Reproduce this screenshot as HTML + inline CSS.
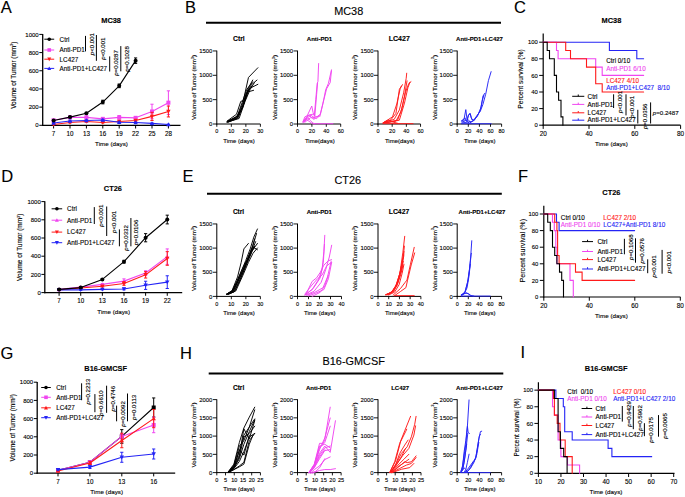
<!DOCTYPE html>
<html><head><meta charset="utf-8"><style>
html,body{margin:0;padding:0;background:#fff;}
svg{display:block;}
text{font-family:"Liberation Sans", sans-serif;}
</style></head><body>
<svg width="685" height="497" viewBox="0 0 685 497">
<rect width="685" height="497" fill="#fff"/>
<text x="0.8" y="13.1" font-size="16.5" text-anchor="start" fill="#000000" stroke="#000000" stroke-width="0.12">A</text>
<text x="185" y="13.3" font-size="16.5" text-anchor="start" fill="#000000" stroke="#000000" stroke-width="0.12">B</text>
<text x="514" y="13.2" font-size="16.5" text-anchor="start" fill="#000000" stroke="#000000" stroke-width="0.12">C</text>
<text x="1.2" y="182.4" font-size="16.5" text-anchor="start" fill="#000000" stroke="#000000" stroke-width="0.12">D</text>
<text x="182.5" y="182.4" font-size="16.5" text-anchor="start" fill="#000000" stroke="#000000" stroke-width="0.12">E</text>
<text x="518" y="182.2" font-size="16.5" text-anchor="start" fill="#000000" stroke="#000000" stroke-width="0.12">F</text>
<text x="0.5" y="359.3" font-size="16.5" text-anchor="start" fill="#000000" stroke="#000000" stroke-width="0.12">G</text>
<text x="180" y="359.3" font-size="16.5" text-anchor="start" fill="#000000" stroke="#000000" stroke-width="0.12">H</text>
<text x="520.5" y="358.3" font-size="16.5" text-anchor="start" fill="#000000" stroke="#000000" stroke-width="0.12">I</text>
<line x1="42.7" y1="34.1" x2="42.7" y2="125.9" stroke="#000000" stroke-width="1.3" stroke-linecap="butt"/>
<line x1="42.1" y1="125.3" x2="180.5" y2="125.3" stroke="#000000" stroke-width="1.3" stroke-linecap="butt"/>
<line x1="39.3" y1="125.3" x2="42.7" y2="125.3" stroke="#000000" stroke-width="1" stroke-linecap="butt"/>
<text x="38.7" y="127.4" font-size="6" text-anchor="end" fill="#000000" stroke="#000000" stroke-width="0.12">0</text>
<line x1="39.3" y1="107.12" x2="42.7" y2="107.12" stroke="#000000" stroke-width="1" stroke-linecap="butt"/>
<text x="38.7" y="109.22" font-size="6" text-anchor="end" fill="#000000" stroke="#000000" stroke-width="0.12">200</text>
<line x1="39.3" y1="88.94" x2="42.7" y2="88.94" stroke="#000000" stroke-width="1" stroke-linecap="butt"/>
<text x="38.7" y="91.04" font-size="6" text-anchor="end" fill="#000000" stroke="#000000" stroke-width="0.12">400</text>
<line x1="39.3" y1="70.76" x2="42.7" y2="70.76" stroke="#000000" stroke-width="1" stroke-linecap="butt"/>
<text x="38.7" y="72.86" font-size="6" text-anchor="end" fill="#000000" stroke="#000000" stroke-width="0.12">600</text>
<line x1="39.3" y1="52.58" x2="42.7" y2="52.58" stroke="#000000" stroke-width="1" stroke-linecap="butt"/>
<text x="38.7" y="54.68" font-size="6" text-anchor="end" fill="#000000" stroke="#000000" stroke-width="0.12">800</text>
<line x1="39.3" y1="34.4" x2="42.7" y2="34.4" stroke="#000000" stroke-width="1" stroke-linecap="butt"/>
<text x="38.7" y="36.5" font-size="6" text-anchor="end" fill="#000000" stroke="#000000" stroke-width="0.12">1000</text>
<line x1="53.6" y1="125.3" x2="53.6" y2="128.5" stroke="#000000" stroke-width="1" stroke-linecap="butt"/>
<text x="53.6" y="135.9" font-size="6.3" text-anchor="middle" fill="#000000" stroke="#000000" stroke-width="0.12">7</text>
<line x1="70" y1="125.3" x2="70" y2="128.5" stroke="#000000" stroke-width="1" stroke-linecap="butt"/>
<text x="70" y="135.9" font-size="6.3" text-anchor="middle" fill="#000000" stroke="#000000" stroke-width="0.12">10</text>
<line x1="86.4" y1="125.3" x2="86.4" y2="128.5" stroke="#000000" stroke-width="1" stroke-linecap="butt"/>
<text x="86.4" y="135.9" font-size="6.3" text-anchor="middle" fill="#000000" stroke="#000000" stroke-width="0.12">13</text>
<line x1="102.8" y1="125.3" x2="102.8" y2="128.5" stroke="#000000" stroke-width="1" stroke-linecap="butt"/>
<text x="102.8" y="135.9" font-size="6.3" text-anchor="middle" fill="#000000" stroke="#000000" stroke-width="0.12">16</text>
<line x1="119.2" y1="125.3" x2="119.2" y2="128.5" stroke="#000000" stroke-width="1" stroke-linecap="butt"/>
<text x="119.2" y="135.9" font-size="6.3" text-anchor="middle" fill="#000000" stroke="#000000" stroke-width="0.12">19</text>
<line x1="135.6" y1="125.3" x2="135.6" y2="128.5" stroke="#000000" stroke-width="1" stroke-linecap="butt"/>
<text x="135.6" y="135.9" font-size="6.3" text-anchor="middle" fill="#000000" stroke="#000000" stroke-width="0.12">22</text>
<line x1="152" y1="125.3" x2="152" y2="128.5" stroke="#000000" stroke-width="1" stroke-linecap="butt"/>
<text x="152" y="135.9" font-size="6.3" text-anchor="middle" fill="#000000" stroke="#000000" stroke-width="0.12">25</text>
<line x1="168.4" y1="125.3" x2="168.4" y2="128.5" stroke="#000000" stroke-width="1" stroke-linecap="butt"/>
<text x="168.4" y="135.9" font-size="6.3" text-anchor="middle" fill="#000000" stroke="#000000" stroke-width="0.12">28</text>
<text x="111.5" y="146.4" font-size="6.25" text-anchor="middle" fill="#000000" stroke="#000000" stroke-width="0.12">Time (days)</text>
<text x="15.8" y="75.2" font-size="6.4" text-anchor="middle" stroke="#000" stroke-width="0.12" transform="rotate(-90 15.8 75.2)">Volume of Tumor (mm<tspan font-size="3.97" dy="-2.43">3</tspan><tspan dy="2.43">)</tspan></text>
<text x="111.1" y="23.4" font-size="7.4" text-anchor="middle" fill="#000000" stroke="#000000" stroke-width="0.12" font-weight="bold">MC38</text>
<polyline points="53.6,120.3 70,117.39 86.4,117.39 102.8,118.85 119.2,117.39 135.6,117.85 152,111.48 168.4,102.67" fill="none" stroke="#F046F0" stroke-width="1.1" stroke-linejoin="round" stroke-linecap="round"/>
<rect x="51.6" y="118.3" width="4" height="4" fill="#F046F0"/>
<line x1="70" y1="116.3" x2="70" y2="118.48" stroke="#F046F0" stroke-width="1" stroke-linecap="butt"/>
<line x1="68.4" y1="116.3" x2="71.6" y2="116.3" stroke="#F046F0" stroke-width="1" stroke-linecap="butt"/>
<line x1="68.4" y1="118.48" x2="71.6" y2="118.48" stroke="#F046F0" stroke-width="1" stroke-linecap="butt"/>
<rect x="68" y="115.39" width="4" height="4" fill="#F046F0"/>
<line x1="86.4" y1="116.03" x2="86.4" y2="118.76" stroke="#F046F0" stroke-width="1" stroke-linecap="butt"/>
<line x1="84.8" y1="116.03" x2="88" y2="116.03" stroke="#F046F0" stroke-width="1" stroke-linecap="butt"/>
<line x1="84.8" y1="118.76" x2="88" y2="118.76" stroke="#F046F0" stroke-width="1" stroke-linecap="butt"/>
<rect x="84.4" y="115.39" width="4" height="4" fill="#F046F0"/>
<line x1="102.8" y1="117.94" x2="102.8" y2="119.76" stroke="#F046F0" stroke-width="1" stroke-linecap="butt"/>
<line x1="101.2" y1="117.94" x2="104.4" y2="117.94" stroke="#F046F0" stroke-width="1" stroke-linecap="butt"/>
<line x1="101.2" y1="119.76" x2="104.4" y2="119.76" stroke="#F046F0" stroke-width="1" stroke-linecap="butt"/>
<rect x="100.8" y="116.85" width="4" height="4" fill="#F046F0"/>
<line x1="119.2" y1="115.57" x2="119.2" y2="119.21" stroke="#F046F0" stroke-width="1" stroke-linecap="butt"/>
<line x1="117.6" y1="115.57" x2="120.8" y2="115.57" stroke="#F046F0" stroke-width="1" stroke-linecap="butt"/>
<line x1="117.6" y1="119.21" x2="120.8" y2="119.21" stroke="#F046F0" stroke-width="1" stroke-linecap="butt"/>
<rect x="117.2" y="115.39" width="4" height="4" fill="#F046F0"/>
<line x1="135.6" y1="116.48" x2="135.6" y2="119.21" stroke="#F046F0" stroke-width="1" stroke-linecap="butt"/>
<line x1="134" y1="116.48" x2="137.2" y2="116.48" stroke="#F046F0" stroke-width="1" stroke-linecap="butt"/>
<line x1="134" y1="119.21" x2="137.2" y2="119.21" stroke="#F046F0" stroke-width="1" stroke-linecap="butt"/>
<rect x="133.6" y="115.85" width="4" height="4" fill="#F046F0"/>
<line x1="152" y1="104.21" x2="152" y2="118.76" stroke="#F046F0" stroke-width="1" stroke-linecap="butt"/>
<line x1="150.4" y1="104.21" x2="153.6" y2="104.21" stroke="#F046F0" stroke-width="1" stroke-linecap="butt"/>
<line x1="150.4" y1="118.76" x2="153.6" y2="118.76" stroke="#F046F0" stroke-width="1" stroke-linecap="butt"/>
<rect x="150" y="109.48" width="4" height="4" fill="#F046F0"/>
<line x1="168.4" y1="90.85" x2="168.4" y2="114.48" stroke="#F046F0" stroke-width="1" stroke-linecap="butt"/>
<line x1="166.8" y1="90.85" x2="170" y2="90.85" stroke="#F046F0" stroke-width="1" stroke-linecap="butt"/>
<line x1="166.8" y1="114.48" x2="170" y2="114.48" stroke="#F046F0" stroke-width="1" stroke-linecap="butt"/>
<rect x="166.4" y="100.67" width="4" height="4" fill="#F046F0"/>
<polyline points="53.6,124.48 70,122.57 86.4,121.48 102.8,122.57 119.2,121.48 135.6,120.57 152,116.39 168.4,111.48" fill="none" stroke="#FF1A1A" stroke-width="1.1" stroke-linejoin="round" stroke-linecap="round"/>
<line x1="53.6" y1="124.21" x2="53.6" y2="124.75" stroke="#FF1A1A" stroke-width="1" stroke-linecap="butt"/>
<line x1="52" y1="124.21" x2="55.2" y2="124.21" stroke="#FF1A1A" stroke-width="1" stroke-linecap="butt"/>
<line x1="52" y1="124.75" x2="55.2" y2="124.75" stroke="#FF1A1A" stroke-width="1" stroke-linecap="butt"/>
<polygon points="53.6,126.68 51.4,122.72 55.8,122.72" fill="#FF1A1A"/>
<line x1="70" y1="122.12" x2="70" y2="123.03" stroke="#FF1A1A" stroke-width="1" stroke-linecap="butt"/>
<line x1="68.4" y1="122.12" x2="71.6" y2="122.12" stroke="#FF1A1A" stroke-width="1" stroke-linecap="butt"/>
<line x1="68.4" y1="123.03" x2="71.6" y2="123.03" stroke="#FF1A1A" stroke-width="1" stroke-linecap="butt"/>
<polygon points="70,124.77 67.8,120.81 72.2,120.81" fill="#FF1A1A"/>
<line x1="86.4" y1="120.75" x2="86.4" y2="122.21" stroke="#FF1A1A" stroke-width="1" stroke-linecap="butt"/>
<line x1="84.8" y1="120.75" x2="88" y2="120.75" stroke="#FF1A1A" stroke-width="1" stroke-linecap="butt"/>
<line x1="84.8" y1="122.21" x2="88" y2="122.21" stroke="#FF1A1A" stroke-width="1" stroke-linecap="butt"/>
<polygon points="86.4,123.68 84.2,119.72 88.6,119.72" fill="#FF1A1A"/>
<line x1="102.8" y1="122.12" x2="102.8" y2="123.03" stroke="#FF1A1A" stroke-width="1" stroke-linecap="butt"/>
<line x1="101.2" y1="122.12" x2="104.4" y2="122.12" stroke="#FF1A1A" stroke-width="1" stroke-linecap="butt"/>
<line x1="101.2" y1="123.03" x2="104.4" y2="123.03" stroke="#FF1A1A" stroke-width="1" stroke-linecap="butt"/>
<polygon points="102.8,124.77 100.6,120.81 105,120.81" fill="#FF1A1A"/>
<line x1="119.2" y1="121.03" x2="119.2" y2="121.94" stroke="#FF1A1A" stroke-width="1" stroke-linecap="butt"/>
<line x1="117.6" y1="121.03" x2="120.8" y2="121.03" stroke="#FF1A1A" stroke-width="1" stroke-linecap="butt"/>
<line x1="117.6" y1="121.94" x2="120.8" y2="121.94" stroke="#FF1A1A" stroke-width="1" stroke-linecap="butt"/>
<polygon points="119.2,123.68 117,119.72 121.4,119.72" fill="#FF1A1A"/>
<line x1="135.6" y1="119.85" x2="135.6" y2="121.3" stroke="#FF1A1A" stroke-width="1" stroke-linecap="butt"/>
<line x1="134" y1="119.85" x2="137.2" y2="119.85" stroke="#FF1A1A" stroke-width="1" stroke-linecap="butt"/>
<line x1="134" y1="121.3" x2="137.2" y2="121.3" stroke="#FF1A1A" stroke-width="1" stroke-linecap="butt"/>
<polygon points="135.6,122.77 133.4,118.81 137.8,118.81" fill="#FF1A1A"/>
<line x1="152" y1="112.3" x2="152" y2="120.48" stroke="#FF1A1A" stroke-width="1" stroke-linecap="butt"/>
<line x1="150.4" y1="112.3" x2="153.6" y2="112.3" stroke="#FF1A1A" stroke-width="1" stroke-linecap="butt"/>
<line x1="150.4" y1="120.48" x2="153.6" y2="120.48" stroke="#FF1A1A" stroke-width="1" stroke-linecap="butt"/>
<polygon points="152,118.59 149.8,114.63 154.2,114.63" fill="#FF1A1A"/>
<line x1="168.4" y1="106.03" x2="168.4" y2="116.94" stroke="#FF1A1A" stroke-width="1" stroke-linecap="butt"/>
<line x1="166.8" y1="106.03" x2="170" y2="106.03" stroke="#FF1A1A" stroke-width="1" stroke-linecap="butt"/>
<line x1="166.8" y1="116.94" x2="170" y2="116.94" stroke="#FF1A1A" stroke-width="1" stroke-linecap="butt"/>
<polygon points="168.4,113.68 166.2,109.72 170.6,109.72" fill="#FF1A1A"/>
<polyline points="53.6,123.03 70,120.94 86.4,120.57 102.8,119.94 119.2,122.3 135.6,122.57 152,123.39 168.4,124.48" fill="none" stroke="#2424F5" stroke-width="1.1" stroke-linejoin="round" stroke-linecap="round"/>
<line x1="53.6" y1="122.57" x2="53.6" y2="123.48" stroke="#2424F5" stroke-width="1" stroke-linecap="butt"/>
<line x1="52" y1="122.57" x2="55.2" y2="122.57" stroke="#2424F5" stroke-width="1" stroke-linecap="butt"/>
<line x1="52" y1="123.48" x2="55.2" y2="123.48" stroke="#2424F5" stroke-width="1" stroke-linecap="butt"/>
<polygon points="53.6,120.83 51.4,124.79 55.8,124.79" fill="#2424F5"/>
<line x1="70" y1="120.21" x2="70" y2="121.66" stroke="#2424F5" stroke-width="1" stroke-linecap="butt"/>
<line x1="68.4" y1="120.21" x2="71.6" y2="120.21" stroke="#2424F5" stroke-width="1" stroke-linecap="butt"/>
<line x1="68.4" y1="121.66" x2="71.6" y2="121.66" stroke="#2424F5" stroke-width="1" stroke-linecap="butt"/>
<polygon points="70,118.74 67.8,122.7 72.2,122.7" fill="#2424F5"/>
<line x1="86.4" y1="119.85" x2="86.4" y2="121.3" stroke="#2424F5" stroke-width="1" stroke-linecap="butt"/>
<line x1="84.8" y1="119.85" x2="88" y2="119.85" stroke="#2424F5" stroke-width="1" stroke-linecap="butt"/>
<line x1="84.8" y1="121.3" x2="88" y2="121.3" stroke="#2424F5" stroke-width="1" stroke-linecap="butt"/>
<polygon points="86.4,118.37 84.2,122.33 88.6,122.33" fill="#2424F5"/>
<line x1="102.8" y1="119.21" x2="102.8" y2="120.66" stroke="#2424F5" stroke-width="1" stroke-linecap="butt"/>
<line x1="101.2" y1="119.21" x2="104.4" y2="119.21" stroke="#2424F5" stroke-width="1" stroke-linecap="butt"/>
<line x1="101.2" y1="120.66" x2="104.4" y2="120.66" stroke="#2424F5" stroke-width="1" stroke-linecap="butt"/>
<polygon points="102.8,117.74 100.6,121.7 105,121.7" fill="#2424F5"/>
<line x1="119.2" y1="121.85" x2="119.2" y2="122.75" stroke="#2424F5" stroke-width="1" stroke-linecap="butt"/>
<line x1="117.6" y1="121.85" x2="120.8" y2="121.85" stroke="#2424F5" stroke-width="1" stroke-linecap="butt"/>
<line x1="117.6" y1="122.75" x2="120.8" y2="122.75" stroke="#2424F5" stroke-width="1" stroke-linecap="butt"/>
<polygon points="119.2,120.1 117,124.06 121.4,124.06" fill="#2424F5"/>
<line x1="135.6" y1="122.12" x2="135.6" y2="123.03" stroke="#2424F5" stroke-width="1" stroke-linecap="butt"/>
<line x1="134" y1="122.12" x2="137.2" y2="122.12" stroke="#2424F5" stroke-width="1" stroke-linecap="butt"/>
<line x1="134" y1="123.03" x2="137.2" y2="123.03" stroke="#2424F5" stroke-width="1" stroke-linecap="butt"/>
<polygon points="135.6,120.37 133.4,124.33 137.8,124.33" fill="#2424F5"/>
<line x1="152" y1="122.94" x2="152" y2="123.85" stroke="#2424F5" stroke-width="1" stroke-linecap="butt"/>
<line x1="150.4" y1="122.94" x2="153.6" y2="122.94" stroke="#2424F5" stroke-width="1" stroke-linecap="butt"/>
<line x1="150.4" y1="123.85" x2="153.6" y2="123.85" stroke="#2424F5" stroke-width="1" stroke-linecap="butt"/>
<polygon points="152,121.19 149.8,125.15 154.2,125.15" fill="#2424F5"/>
<line x1="168.4" y1="124.21" x2="168.4" y2="124.75" stroke="#2424F5" stroke-width="1" stroke-linecap="butt"/>
<line x1="166.8" y1="124.21" x2="170" y2="124.21" stroke="#2424F5" stroke-width="1" stroke-linecap="butt"/>
<line x1="166.8" y1="124.75" x2="170" y2="124.75" stroke="#2424F5" stroke-width="1" stroke-linecap="butt"/>
<polygon points="168.4,122.28 166.2,126.24 170.6,126.24" fill="#2424F5"/>
<polyline points="53.6,120.57 70,117.12 86.4,113.21 102.8,102.03 119.2,85.85 135.6,60.67" fill="none" stroke="#000000" stroke-width="1.1" stroke-linejoin="round" stroke-linecap="round"/>
<circle cx="53.6" cy="120.57" r="2" fill="#000000"/>
<line x1="70" y1="116.39" x2="70" y2="117.85" stroke="#000000" stroke-width="1" stroke-linecap="butt"/>
<line x1="68.4" y1="116.39" x2="71.6" y2="116.39" stroke="#000000" stroke-width="1" stroke-linecap="butt"/>
<line x1="68.4" y1="117.85" x2="71.6" y2="117.85" stroke="#000000" stroke-width="1" stroke-linecap="butt"/>
<circle cx="70" cy="117.12" r="2" fill="#000000"/>
<line x1="86.4" y1="112.48" x2="86.4" y2="113.94" stroke="#000000" stroke-width="1" stroke-linecap="butt"/>
<line x1="84.8" y1="112.48" x2="88" y2="112.48" stroke="#000000" stroke-width="1" stroke-linecap="butt"/>
<line x1="84.8" y1="113.94" x2="88" y2="113.94" stroke="#000000" stroke-width="1" stroke-linecap="butt"/>
<circle cx="86.4" cy="113.21" r="2" fill="#000000"/>
<line x1="102.8" y1="100.21" x2="102.8" y2="103.85" stroke="#000000" stroke-width="1" stroke-linecap="butt"/>
<line x1="101.2" y1="100.21" x2="104.4" y2="100.21" stroke="#000000" stroke-width="1" stroke-linecap="butt"/>
<line x1="101.2" y1="103.85" x2="104.4" y2="103.85" stroke="#000000" stroke-width="1" stroke-linecap="butt"/>
<circle cx="102.8" cy="102.03" r="2" fill="#000000"/>
<line x1="119.2" y1="84.03" x2="119.2" y2="87.67" stroke="#000000" stroke-width="1" stroke-linecap="butt"/>
<line x1="117.6" y1="84.03" x2="120.8" y2="84.03" stroke="#000000" stroke-width="1" stroke-linecap="butt"/>
<line x1="117.6" y1="87.67" x2="120.8" y2="87.67" stroke="#000000" stroke-width="1" stroke-linecap="butt"/>
<circle cx="119.2" cy="85.85" r="2" fill="#000000"/>
<line x1="135.6" y1="57.94" x2="135.6" y2="63.4" stroke="#000000" stroke-width="1" stroke-linecap="butt"/>
<line x1="134" y1="57.94" x2="137.2" y2="57.94" stroke="#000000" stroke-width="1" stroke-linecap="butt"/>
<line x1="134" y1="63.4" x2="137.2" y2="63.4" stroke="#000000" stroke-width="1" stroke-linecap="butt"/>
<circle cx="135.6" cy="60.67" r="2" fill="#000000"/>
<line x1="44.3" y1="39.2" x2="54.2" y2="39.2" stroke="#000000" stroke-width="1" stroke-linecap="butt"/>
<circle cx="49.25" cy="39.2" r="1.8" fill="#000000"/>
<text x="59.6" y="41.5" font-size="6.3" text-anchor="start" fill="#000000" stroke="#000000" stroke-width="0.12">Ctrl</text>
<line x1="44.3" y1="50" x2="54.2" y2="50" stroke="#F046F0" stroke-width="1" stroke-linecap="butt"/>
<rect x="47.45" y="48.2" width="3.6" height="3.6" fill="#F046F0"/>
<text x="59.6" y="52.3" font-size="6.3" text-anchor="start" fill="#000000" stroke="#000000" stroke-width="0.12">Anti-PD1</text>
<line x1="44.3" y1="59.2" x2="54.2" y2="59.2" stroke="#FF1A1A" stroke-width="1" stroke-linecap="butt"/>
<polygon points="49.25,61.18 47.27,57.62 51.23,57.62" fill="#FF1A1A"/>
<text x="59.6" y="61.5" font-size="6.3" text-anchor="start" fill="#000000" stroke="#000000" stroke-width="0.12">LC427</text>
<line x1="44.3" y1="68.4" x2="54.2" y2="68.4" stroke="#2424F5" stroke-width="1" stroke-linecap="butt"/>
<polygon points="49.25,66.42 47.27,69.98 51.23,69.98" fill="#2424F5"/>
<text x="59.6" y="70.7" font-size="6.3" text-anchor="start" fill="#000000" stroke="#000000" stroke-width="0.12">Anti-PD1+LC427</text>
<line x1="85.5" y1="35.9" x2="85.5" y2="51.4" stroke="#000000" stroke-width="1" stroke-linecap="butt"/>
<text x="94.15" y="44.1" font-size="6.1" text-anchor="middle" stroke="#000" stroke-width="0.12" transform="rotate(-90 94.15 44.1)"><tspan font-style="italic">p</tspan>&lt;0.001</text>
<line x1="96.4" y1="35" x2="96.4" y2="60.8" stroke="#000000" stroke-width="1" stroke-linecap="butt"/>
<text x="105.15" y="48.65" font-size="6.1" text-anchor="middle" stroke="#000" stroke-width="0.12" transform="rotate(-90 105.15 48.65)"><tspan font-style="italic">p</tspan>&lt;0.001</text>
<line x1="109.7" y1="56.4" x2="109.7" y2="71.5" stroke="#000000" stroke-width="1" stroke-linecap="butt"/>
<text x="117.95" y="63" font-size="6.1" text-anchor="middle" stroke="#000" stroke-width="0.12" transform="rotate(-90 117.95 63)"><tspan font-style="italic">p</tspan>=0.0287</text>
<line x1="120.8" y1="46.1" x2="120.8" y2="71.3" stroke="#000000" stroke-width="1" stroke-linecap="butt"/>
<text x="129.45" y="59" font-size="6.1" text-anchor="middle" stroke="#000" stroke-width="0.12" transform="rotate(-90 129.45 59)"><tspan font-style="italic">p</tspan>=0.1028</text>
<line x1="44.8" y1="201.3" x2="44.8" y2="293.2" stroke="#000000" stroke-width="1.3" stroke-linecap="butt"/>
<line x1="44.2" y1="292.6" x2="182.2" y2="292.6" stroke="#000000" stroke-width="1.3" stroke-linecap="butt"/>
<line x1="41.4" y1="292.6" x2="44.8" y2="292.6" stroke="#000000" stroke-width="1" stroke-linecap="butt"/>
<text x="40.8" y="294.7" font-size="6" text-anchor="end" fill="#000000" stroke="#000000" stroke-width="0.12">0</text>
<line x1="41.4" y1="274.4" x2="44.8" y2="274.4" stroke="#000000" stroke-width="1" stroke-linecap="butt"/>
<text x="40.8" y="276.5" font-size="6" text-anchor="end" fill="#000000" stroke="#000000" stroke-width="0.12">200</text>
<line x1="41.4" y1="256.2" x2="44.8" y2="256.2" stroke="#000000" stroke-width="1" stroke-linecap="butt"/>
<text x="40.8" y="258.3" font-size="6" text-anchor="end" fill="#000000" stroke="#000000" stroke-width="0.12">400</text>
<line x1="41.4" y1="238" x2="44.8" y2="238" stroke="#000000" stroke-width="1" stroke-linecap="butt"/>
<text x="40.8" y="240.1" font-size="6" text-anchor="end" fill="#000000" stroke="#000000" stroke-width="0.12">600</text>
<line x1="41.4" y1="219.8" x2="44.8" y2="219.8" stroke="#000000" stroke-width="1" stroke-linecap="butt"/>
<text x="40.8" y="221.9" font-size="6" text-anchor="end" fill="#000000" stroke="#000000" stroke-width="0.12">800</text>
<line x1="41.4" y1="201.6" x2="44.8" y2="201.6" stroke="#000000" stroke-width="1" stroke-linecap="butt"/>
<text x="40.8" y="203.7" font-size="6" text-anchor="end" fill="#000000" stroke="#000000" stroke-width="0.12">1000</text>
<line x1="59.1" y1="292.6" x2="59.1" y2="295.8" stroke="#000000" stroke-width="1" stroke-linecap="butt"/>
<text x="59.1" y="303.2" font-size="6.3" text-anchor="middle" fill="#000000" stroke="#000000" stroke-width="0.12">7</text>
<line x1="80.73" y1="292.6" x2="80.73" y2="295.8" stroke="#000000" stroke-width="1" stroke-linecap="butt"/>
<text x="80.73" y="303.2" font-size="6.3" text-anchor="middle" fill="#000000" stroke="#000000" stroke-width="0.12">10</text>
<line x1="102.36" y1="292.6" x2="102.36" y2="295.8" stroke="#000000" stroke-width="1" stroke-linecap="butt"/>
<text x="102.36" y="303.2" font-size="6.3" text-anchor="middle" fill="#000000" stroke="#000000" stroke-width="0.12">13</text>
<line x1="123.99" y1="292.6" x2="123.99" y2="295.8" stroke="#000000" stroke-width="1" stroke-linecap="butt"/>
<text x="123.99" y="303.2" font-size="6.3" text-anchor="middle" fill="#000000" stroke="#000000" stroke-width="0.12">16</text>
<line x1="145.62" y1="292.6" x2="145.62" y2="295.8" stroke="#000000" stroke-width="1" stroke-linecap="butt"/>
<text x="145.62" y="303.2" font-size="6.3" text-anchor="middle" fill="#000000" stroke="#000000" stroke-width="0.12">19</text>
<line x1="167.25" y1="292.6" x2="167.25" y2="295.8" stroke="#000000" stroke-width="1" stroke-linecap="butt"/>
<text x="167.25" y="303.2" font-size="6.3" text-anchor="middle" fill="#000000" stroke="#000000" stroke-width="0.12">22</text>
<text x="113.7" y="314" font-size="6.25" text-anchor="middle" fill="#000000" stroke="#000000" stroke-width="0.12">Time (days)</text>
<text x="22.2" y="247.3" font-size="6.4" text-anchor="middle" stroke="#000" stroke-width="0.12" transform="rotate(-90 22.2 247.3)">Volume of Tumor (mm<tspan font-size="3.97" dy="-2.43">3</tspan><tspan dy="2.43">)</tspan></text>
<text x="112.9" y="191.4" font-size="7.4" text-anchor="middle" fill="#000000" stroke="#000000" stroke-width="0.12" font-weight="bold">CT26</text>
<polyline points="59.1,289.42 80.73,287.14 102.36,284.41 123.99,281.13 145.62,273.04 167.25,256.66" fill="none" stroke="#F046F0" stroke-width="1.1" stroke-linejoin="round" stroke-linecap="round"/>
<line x1="59.1" y1="288.96" x2="59.1" y2="289.87" stroke="#F046F0" stroke-width="1" stroke-linecap="butt"/>
<line x1="57.5" y1="288.96" x2="60.7" y2="288.96" stroke="#F046F0" stroke-width="1" stroke-linecap="butt"/>
<line x1="57.5" y1="289.87" x2="60.7" y2="289.87" stroke="#F046F0" stroke-width="1" stroke-linecap="butt"/>
<polygon points="59.1,287.22 56.9,291.18 61.3,291.18" fill="#F046F0"/>
<line x1="80.73" y1="286.69" x2="80.73" y2="287.6" stroke="#F046F0" stroke-width="1" stroke-linecap="butt"/>
<line x1="79.13" y1="286.69" x2="82.33" y2="286.69" stroke="#F046F0" stroke-width="1" stroke-linecap="butt"/>
<line x1="79.13" y1="287.6" x2="82.33" y2="287.6" stroke="#F046F0" stroke-width="1" stroke-linecap="butt"/>
<polygon points="80.73,284.94 78.53,288.9 82.93,288.9" fill="#F046F0"/>
<line x1="102.36" y1="283.5" x2="102.36" y2="285.32" stroke="#F046F0" stroke-width="1" stroke-linecap="butt"/>
<line x1="100.76" y1="283.5" x2="103.96" y2="283.5" stroke="#F046F0" stroke-width="1" stroke-linecap="butt"/>
<line x1="100.76" y1="285.32" x2="103.96" y2="285.32" stroke="#F046F0" stroke-width="1" stroke-linecap="butt"/>
<polygon points="102.36,282.21 100.16,286.17 104.56,286.17" fill="#F046F0"/>
<line x1="123.99" y1="278.86" x2="123.99" y2="283.41" stroke="#F046F0" stroke-width="1" stroke-linecap="butt"/>
<line x1="122.39" y1="278.86" x2="125.59" y2="278.86" stroke="#F046F0" stroke-width="1" stroke-linecap="butt"/>
<line x1="122.39" y1="283.41" x2="125.59" y2="283.41" stroke="#F046F0" stroke-width="1" stroke-linecap="butt"/>
<polygon points="123.99,278.93 121.79,282.89 126.19,282.89" fill="#F046F0"/>
<line x1="145.62" y1="270.76" x2="145.62" y2="275.31" stroke="#F046F0" stroke-width="1" stroke-linecap="butt"/>
<line x1="144.02" y1="270.76" x2="147.22" y2="270.76" stroke="#F046F0" stroke-width="1" stroke-linecap="butt"/>
<line x1="144.02" y1="275.31" x2="147.22" y2="275.31" stroke="#F046F0" stroke-width="1" stroke-linecap="butt"/>
<polygon points="145.62,270.84 143.42,274.8 147.82,274.8" fill="#F046F0"/>
<line x1="167.25" y1="248.92" x2="167.25" y2="264.39" stroke="#F046F0" stroke-width="1" stroke-linecap="butt"/>
<line x1="165.65" y1="248.92" x2="168.85" y2="248.92" stroke="#F046F0" stroke-width="1" stroke-linecap="butt"/>
<line x1="165.65" y1="264.39" x2="168.85" y2="264.39" stroke="#F046F0" stroke-width="1" stroke-linecap="butt"/>
<polygon points="167.25,254.46 165.05,258.42 169.45,258.42" fill="#F046F0"/>
<polyline points="59.1,289.87 80.73,288.05 102.36,286.23 123.99,283.5 145.62,274.86 167.25,258.48" fill="none" stroke="#FF1A1A" stroke-width="1.1" stroke-linejoin="round" stroke-linecap="round"/>
<line x1="59.1" y1="289.42" x2="59.1" y2="290.33" stroke="#FF1A1A" stroke-width="1" stroke-linecap="butt"/>
<line x1="57.5" y1="289.42" x2="60.7" y2="289.42" stroke="#FF1A1A" stroke-width="1" stroke-linecap="butt"/>
<line x1="57.5" y1="290.33" x2="60.7" y2="290.33" stroke="#FF1A1A" stroke-width="1" stroke-linecap="butt"/>
<polygon points="59.1,292.07 56.9,288.11 61.3,288.11" fill="#FF1A1A"/>
<line x1="80.73" y1="287.6" x2="80.73" y2="288.5" stroke="#FF1A1A" stroke-width="1" stroke-linecap="butt"/>
<line x1="79.13" y1="287.6" x2="82.33" y2="287.6" stroke="#FF1A1A" stroke-width="1" stroke-linecap="butt"/>
<line x1="79.13" y1="288.5" x2="82.33" y2="288.5" stroke="#FF1A1A" stroke-width="1" stroke-linecap="butt"/>
<polygon points="80.73,290.25 78.53,286.29 82.93,286.29" fill="#FF1A1A"/>
<line x1="102.36" y1="285.5" x2="102.36" y2="286.96" stroke="#FF1A1A" stroke-width="1" stroke-linecap="butt"/>
<line x1="100.76" y1="285.5" x2="103.96" y2="285.5" stroke="#FF1A1A" stroke-width="1" stroke-linecap="butt"/>
<line x1="100.76" y1="286.96" x2="103.96" y2="286.96" stroke="#FF1A1A" stroke-width="1" stroke-linecap="butt"/>
<polygon points="102.36,288.43 100.16,284.47 104.56,284.47" fill="#FF1A1A"/>
<line x1="123.99" y1="281.68" x2="123.99" y2="285.32" stroke="#FF1A1A" stroke-width="1" stroke-linecap="butt"/>
<line x1="122.39" y1="281.68" x2="125.59" y2="281.68" stroke="#FF1A1A" stroke-width="1" stroke-linecap="butt"/>
<line x1="122.39" y1="285.32" x2="125.59" y2="285.32" stroke="#FF1A1A" stroke-width="1" stroke-linecap="butt"/>
<polygon points="123.99,285.7 121.79,281.74 126.19,281.74" fill="#FF1A1A"/>
<line x1="145.62" y1="271.67" x2="145.62" y2="278.04" stroke="#FF1A1A" stroke-width="1" stroke-linecap="butt"/>
<line x1="144.02" y1="271.67" x2="147.22" y2="271.67" stroke="#FF1A1A" stroke-width="1" stroke-linecap="butt"/>
<line x1="144.02" y1="278.04" x2="147.22" y2="278.04" stroke="#FF1A1A" stroke-width="1" stroke-linecap="butt"/>
<polygon points="145.62,277.06 143.42,273.1 147.82,273.1" fill="#FF1A1A"/>
<line x1="167.25" y1="251.65" x2="167.25" y2="265.3" stroke="#FF1A1A" stroke-width="1" stroke-linecap="butt"/>
<line x1="165.65" y1="251.65" x2="168.85" y2="251.65" stroke="#FF1A1A" stroke-width="1" stroke-linecap="butt"/>
<line x1="165.65" y1="265.3" x2="168.85" y2="265.3" stroke="#FF1A1A" stroke-width="1" stroke-linecap="butt"/>
<polygon points="167.25,260.68 165.05,256.72 169.45,256.72" fill="#FF1A1A"/>
<polyline points="59.1,289.87 80.73,289.87 102.36,289.42 123.99,288.96 145.62,285.32 167.25,282.14" fill="none" stroke="#2424F5" stroke-width="1.1" stroke-linejoin="round" stroke-linecap="round"/>
<line x1="59.1" y1="289.42" x2="59.1" y2="290.33" stroke="#2424F5" stroke-width="1" stroke-linecap="butt"/>
<line x1="57.5" y1="289.42" x2="60.7" y2="289.42" stroke="#2424F5" stroke-width="1" stroke-linecap="butt"/>
<line x1="57.5" y1="290.33" x2="60.7" y2="290.33" stroke="#2424F5" stroke-width="1" stroke-linecap="butt"/>
<polygon points="59.1,292.07 56.9,288.11 61.3,288.11" fill="#2424F5"/>
<line x1="80.73" y1="289.42" x2="80.73" y2="290.33" stroke="#2424F5" stroke-width="1" stroke-linecap="butt"/>
<line x1="79.13" y1="289.42" x2="82.33" y2="289.42" stroke="#2424F5" stroke-width="1" stroke-linecap="butt"/>
<line x1="79.13" y1="290.33" x2="82.33" y2="290.33" stroke="#2424F5" stroke-width="1" stroke-linecap="butt"/>
<polygon points="80.73,292.07 78.53,288.11 82.93,288.11" fill="#2424F5"/>
<line x1="102.36" y1="288.96" x2="102.36" y2="289.87" stroke="#2424F5" stroke-width="1" stroke-linecap="butt"/>
<line x1="100.76" y1="288.96" x2="103.96" y2="288.96" stroke="#2424F5" stroke-width="1" stroke-linecap="butt"/>
<line x1="100.76" y1="289.87" x2="103.96" y2="289.87" stroke="#2424F5" stroke-width="1" stroke-linecap="butt"/>
<polygon points="102.36,291.62 100.16,287.66 104.56,287.66" fill="#2424F5"/>
<line x1="123.99" y1="288.05" x2="123.99" y2="289.87" stroke="#2424F5" stroke-width="1" stroke-linecap="butt"/>
<line x1="122.39" y1="288.05" x2="125.59" y2="288.05" stroke="#2424F5" stroke-width="1" stroke-linecap="butt"/>
<line x1="122.39" y1="289.87" x2="125.59" y2="289.87" stroke="#2424F5" stroke-width="1" stroke-linecap="butt"/>
<polygon points="123.99,291.16 121.79,287.2 126.19,287.2" fill="#2424F5"/>
<line x1="145.62" y1="281.23" x2="145.62" y2="289.42" stroke="#2424F5" stroke-width="1" stroke-linecap="butt"/>
<line x1="144.02" y1="281.23" x2="147.22" y2="281.23" stroke="#2424F5" stroke-width="1" stroke-linecap="butt"/>
<line x1="144.02" y1="289.42" x2="147.22" y2="289.42" stroke="#2424F5" stroke-width="1" stroke-linecap="butt"/>
<polygon points="145.62,287.52 143.42,283.56 147.82,283.56" fill="#2424F5"/>
<line x1="167.25" y1="275.77" x2="167.25" y2="288.5" stroke="#2424F5" stroke-width="1" stroke-linecap="butt"/>
<line x1="165.65" y1="275.77" x2="168.85" y2="275.77" stroke="#2424F5" stroke-width="1" stroke-linecap="butt"/>
<line x1="165.65" y1="288.5" x2="168.85" y2="288.5" stroke="#2424F5" stroke-width="1" stroke-linecap="butt"/>
<polygon points="167.25,284.34 165.05,280.38 169.45,280.38" fill="#2424F5"/>
<polyline points="59.1,289.42 80.73,287.6 102.36,279.41 123.99,261.66 145.62,237.73 167.25,219.53" fill="none" stroke="#000000" stroke-width="1.1" stroke-linejoin="round" stroke-linecap="round"/>
<line x1="59.1" y1="288.96" x2="59.1" y2="289.87" stroke="#000000" stroke-width="1" stroke-linecap="butt"/>
<line x1="57.5" y1="288.96" x2="60.7" y2="288.96" stroke="#000000" stroke-width="1" stroke-linecap="butt"/>
<line x1="57.5" y1="289.87" x2="60.7" y2="289.87" stroke="#000000" stroke-width="1" stroke-linecap="butt"/>
<circle cx="59.1" cy="289.42" r="2" fill="#000000"/>
<line x1="80.73" y1="287.14" x2="80.73" y2="288.05" stroke="#000000" stroke-width="1" stroke-linecap="butt"/>
<line x1="79.13" y1="287.14" x2="82.33" y2="287.14" stroke="#000000" stroke-width="1" stroke-linecap="butt"/>
<line x1="79.13" y1="288.05" x2="82.33" y2="288.05" stroke="#000000" stroke-width="1" stroke-linecap="butt"/>
<circle cx="80.73" cy="287.6" r="2" fill="#000000"/>
<line x1="102.36" y1="278.5" x2="102.36" y2="280.31" stroke="#000000" stroke-width="1" stroke-linecap="butt"/>
<line x1="100.76" y1="278.5" x2="103.96" y2="278.5" stroke="#000000" stroke-width="1" stroke-linecap="butt"/>
<line x1="100.76" y1="280.31" x2="103.96" y2="280.31" stroke="#000000" stroke-width="1" stroke-linecap="butt"/>
<circle cx="102.36" cy="279.41" r="2" fill="#000000"/>
<line x1="123.99" y1="260.3" x2="123.99" y2="263.03" stroke="#000000" stroke-width="1" stroke-linecap="butt"/>
<line x1="122.39" y1="260.3" x2="125.59" y2="260.3" stroke="#000000" stroke-width="1" stroke-linecap="butt"/>
<line x1="122.39" y1="263.03" x2="125.59" y2="263.03" stroke="#000000" stroke-width="1" stroke-linecap="butt"/>
<circle cx="123.99" cy="261.66" r="2" fill="#000000"/>
<line x1="145.62" y1="233.63" x2="145.62" y2="241.82" stroke="#000000" stroke-width="1" stroke-linecap="butt"/>
<line x1="144.02" y1="233.63" x2="147.22" y2="233.63" stroke="#000000" stroke-width="1" stroke-linecap="butt"/>
<line x1="144.02" y1="241.82" x2="147.22" y2="241.82" stroke="#000000" stroke-width="1" stroke-linecap="butt"/>
<circle cx="145.62" cy="237.73" r="2" fill="#000000"/>
<line x1="167.25" y1="215.16" x2="167.25" y2="223.9" stroke="#000000" stroke-width="1" stroke-linecap="butt"/>
<line x1="165.65" y1="215.16" x2="168.85" y2="215.16" stroke="#000000" stroke-width="1" stroke-linecap="butt"/>
<line x1="165.65" y1="223.9" x2="168.85" y2="223.9" stroke="#000000" stroke-width="1" stroke-linecap="butt"/>
<circle cx="167.25" cy="219.53" r="2" fill="#000000"/>
<line x1="51.6" y1="208.8" x2="62.2" y2="208.8" stroke="#000000" stroke-width="1" stroke-linecap="butt"/>
<circle cx="56.9" cy="208.8" r="1.8" fill="#000000"/>
<text x="67.1" y="211.1" font-size="6.3" text-anchor="start" fill="#000000" stroke="#000000" stroke-width="0.12">Ctrl</text>
<line x1="51.6" y1="220.2" x2="62.2" y2="220.2" stroke="#F046F0" stroke-width="1" stroke-linecap="butt"/>
<polygon points="56.9,218.22 54.92,221.78 58.88,221.78" fill="#F046F0"/>
<text x="67.1" y="222.5" font-size="6.3" text-anchor="start" fill="#000000" stroke="#000000" stroke-width="0.12">Anti-PD1</text>
<line x1="51.6" y1="232.1" x2="62.2" y2="232.1" stroke="#FF1A1A" stroke-width="1" stroke-linecap="butt"/>
<polygon points="56.9,234.08 54.92,230.52 58.88,230.52" fill="#FF1A1A"/>
<text x="67.1" y="234.4" font-size="6.3" text-anchor="start" fill="#000000" stroke="#000000" stroke-width="0.12">LC427</text>
<line x1="51.6" y1="242.7" x2="62.2" y2="242.7" stroke="#2424F5" stroke-width="1" stroke-linecap="butt"/>
<polygon points="56.9,244.68 54.92,241.12 58.88,241.12" fill="#2424F5"/>
<text x="67.1" y="245" font-size="6.3" text-anchor="start" fill="#000000" stroke="#000000" stroke-width="0.12">Anti-PD1+LC427</text>
<line x1="94.3" y1="207.1" x2="94.3" y2="224" stroke="#000000" stroke-width="1" stroke-linecap="butt"/>
<text x="102.85" y="215.7" font-size="6.1" text-anchor="middle" stroke="#000" stroke-width="0.12" transform="rotate(-90 102.85 215.7)"><tspan font-style="italic">p</tspan>&lt;0.001</text>
<line x1="106.7" y1="206.5" x2="106.7" y2="236" stroke="#000000" stroke-width="1" stroke-linecap="butt"/>
<text x="115.55" y="221.9" font-size="6.1" text-anchor="middle" stroke="#000" stroke-width="0.12" transform="rotate(-90 115.55 221.9)"><tspan font-style="italic">p</tspan>&lt;0.001</text>
<line x1="119.4" y1="229.4" x2="119.4" y2="246.3" stroke="#000000" stroke-width="1" stroke-linecap="butt"/>
<text x="127.95" y="237.9" font-size="6.1" text-anchor="middle" stroke="#000" stroke-width="0.12" transform="rotate(-90 127.95 237.9)"><tspan font-style="italic">p</tspan>=0.0332</text>
<line x1="130.9" y1="218" x2="130.9" y2="246.3" stroke="#000000" stroke-width="1" stroke-linecap="butt"/>
<text x="138.45" y="232.5" font-size="6.1" text-anchor="middle" stroke="#000" stroke-width="0.12" transform="rotate(-90 138.45 232.5)"><tspan font-style="italic">p</tspan>=0.0106</text>
<line x1="37.2" y1="381.9" x2="37.2" y2="473.8" stroke="#000000" stroke-width="1.3" stroke-linecap="butt"/>
<line x1="36.6" y1="473.2" x2="175.2" y2="473.2" stroke="#000000" stroke-width="1.3" stroke-linecap="butt"/>
<line x1="33.8" y1="473.2" x2="37.2" y2="473.2" stroke="#000000" stroke-width="1" stroke-linecap="butt"/>
<text x="33.2" y="475.3" font-size="6" text-anchor="end" fill="#000000" stroke="#000000" stroke-width="0.12">0</text>
<line x1="33.8" y1="455" x2="37.2" y2="455" stroke="#000000" stroke-width="1" stroke-linecap="butt"/>
<text x="33.2" y="457.1" font-size="6" text-anchor="end" fill="#000000" stroke="#000000" stroke-width="0.12">200</text>
<line x1="33.8" y1="436.8" x2="37.2" y2="436.8" stroke="#000000" stroke-width="1" stroke-linecap="butt"/>
<text x="33.2" y="438.9" font-size="6" text-anchor="end" fill="#000000" stroke="#000000" stroke-width="0.12">400</text>
<line x1="33.8" y1="418.6" x2="37.2" y2="418.6" stroke="#000000" stroke-width="1" stroke-linecap="butt"/>
<text x="33.2" y="420.7" font-size="6" text-anchor="end" fill="#000000" stroke="#000000" stroke-width="0.12">600</text>
<line x1="33.8" y1="400.4" x2="37.2" y2="400.4" stroke="#000000" stroke-width="1" stroke-linecap="butt"/>
<text x="33.2" y="402.5" font-size="6" text-anchor="end" fill="#000000" stroke="#000000" stroke-width="0.12">800</text>
<line x1="33.8" y1="382.2" x2="37.2" y2="382.2" stroke="#000000" stroke-width="1" stroke-linecap="butt"/>
<text x="33.2" y="384.3" font-size="6" text-anchor="end" fill="#000000" stroke="#000000" stroke-width="0.12">1000</text>
<line x1="58" y1="473.2" x2="58" y2="476.4" stroke="#000000" stroke-width="1" stroke-linecap="butt"/>
<text x="58" y="483.8" font-size="6.3" text-anchor="middle" fill="#000000" stroke="#000000" stroke-width="0.12">7</text>
<line x1="89.9" y1="473.2" x2="89.9" y2="476.4" stroke="#000000" stroke-width="1" stroke-linecap="butt"/>
<text x="89.9" y="483.8" font-size="6.3" text-anchor="middle" fill="#000000" stroke="#000000" stroke-width="0.12">10</text>
<line x1="121.8" y1="473.2" x2="121.8" y2="476.4" stroke="#000000" stroke-width="1" stroke-linecap="butt"/>
<text x="121.8" y="483.8" font-size="6.3" text-anchor="middle" fill="#000000" stroke="#000000" stroke-width="0.12">13</text>
<line x1="153.7" y1="473.2" x2="153.7" y2="476.4" stroke="#000000" stroke-width="1" stroke-linecap="butt"/>
<text x="153.7" y="483.8" font-size="6.3" text-anchor="middle" fill="#000000" stroke="#000000" stroke-width="0.12">16</text>
<text x="106.6" y="494.1" font-size="6.25" text-anchor="middle" fill="#000000" stroke="#000000" stroke-width="0.12">Time (days)</text>
<text x="15.2" y="427.8" font-size="6.4" text-anchor="middle" stroke="#000" stroke-width="0.12" transform="rotate(-90 15.2 427.8)">Volume of Tumor (mm<tspan font-size="3.97" dy="-2.43">3</tspan><tspan dy="2.43">)</tspan></text>
<text x="105.7" y="370.9" font-size="7.4" text-anchor="middle" fill="#000000" stroke="#000000" stroke-width="0.12" font-weight="bold">B16-GMCSF</text>
<polyline points="58,470.29 89.9,462.19 121.8,436.44 153.7,407.5" fill="none" stroke="#000000" stroke-width="1.1" stroke-linejoin="round" stroke-linecap="round"/>
<line x1="58" y1="469.83" x2="58" y2="470.74" stroke="#000000" stroke-width="1" stroke-linecap="butt"/>
<line x1="56.4" y1="469.83" x2="59.6" y2="469.83" stroke="#000000" stroke-width="1" stroke-linecap="butt"/>
<line x1="56.4" y1="470.74" x2="59.6" y2="470.74" stroke="#000000" stroke-width="1" stroke-linecap="butt"/>
<rect x="56" y="468.29" width="4" height="4" fill="#000000"/>
<line x1="89.9" y1="460.82" x2="89.9" y2="463.55" stroke="#000000" stroke-width="1" stroke-linecap="butt"/>
<line x1="88.3" y1="460.82" x2="91.5" y2="460.82" stroke="#000000" stroke-width="1" stroke-linecap="butt"/>
<line x1="88.3" y1="463.55" x2="91.5" y2="463.55" stroke="#000000" stroke-width="1" stroke-linecap="butt"/>
<rect x="87.9" y="460.19" width="4" height="4" fill="#000000"/>
<line x1="121.8" y1="429.61" x2="121.8" y2="443.26" stroke="#000000" stroke-width="1" stroke-linecap="butt"/>
<line x1="120.2" y1="429.61" x2="123.4" y2="429.61" stroke="#000000" stroke-width="1" stroke-linecap="butt"/>
<line x1="120.2" y1="443.26" x2="123.4" y2="443.26" stroke="#000000" stroke-width="1" stroke-linecap="butt"/>
<rect x="119.8" y="434.44" width="4" height="4" fill="#000000"/>
<line x1="153.7" y1="397.94" x2="153.7" y2="417.05" stroke="#000000" stroke-width="1" stroke-linecap="butt"/>
<line x1="152.1" y1="397.94" x2="155.3" y2="397.94" stroke="#000000" stroke-width="1" stroke-linecap="butt"/>
<line x1="152.1" y1="417.05" x2="155.3" y2="417.05" stroke="#000000" stroke-width="1" stroke-linecap="butt"/>
<rect x="151.7" y="405.5" width="4" height="4" fill="#000000"/>
<polyline points="58,470.29 89.9,462.19 121.8,436.44 153.7,424.97" fill="none" stroke="#F046F0" stroke-width="1.1" stroke-linejoin="round" stroke-linecap="round"/>
<line x1="58" y1="469.83" x2="58" y2="470.74" stroke="#F046F0" stroke-width="1" stroke-linecap="butt"/>
<line x1="56.4" y1="469.83" x2="59.6" y2="469.83" stroke="#F046F0" stroke-width="1" stroke-linecap="butt"/>
<line x1="56.4" y1="470.74" x2="59.6" y2="470.74" stroke="#F046F0" stroke-width="1" stroke-linecap="butt"/>
<rect x="56" y="468.29" width="4" height="4" fill="#F046F0"/>
<line x1="89.9" y1="461.28" x2="89.9" y2="463.1" stroke="#F046F0" stroke-width="1" stroke-linecap="butt"/>
<line x1="88.3" y1="461.28" x2="91.5" y2="461.28" stroke="#F046F0" stroke-width="1" stroke-linecap="butt"/>
<line x1="88.3" y1="463.1" x2="91.5" y2="463.1" stroke="#F046F0" stroke-width="1" stroke-linecap="butt"/>
<rect x="87.9" y="460.19" width="4" height="4" fill="#F046F0"/>
<line x1="121.8" y1="433.71" x2="121.8" y2="439.17" stroke="#F046F0" stroke-width="1" stroke-linecap="butt"/>
<line x1="120.2" y1="433.71" x2="123.4" y2="433.71" stroke="#F046F0" stroke-width="1" stroke-linecap="butt"/>
<line x1="120.2" y1="439.17" x2="123.4" y2="439.17" stroke="#F046F0" stroke-width="1" stroke-linecap="butt"/>
<rect x="119.8" y="434.44" width="4" height="4" fill="#F046F0"/>
<line x1="153.7" y1="417.24" x2="153.7" y2="432.7" stroke="#F046F0" stroke-width="1" stroke-linecap="butt"/>
<line x1="152.1" y1="417.24" x2="155.3" y2="417.24" stroke="#F046F0" stroke-width="1" stroke-linecap="butt"/>
<line x1="152.1" y1="432.7" x2="155.3" y2="432.7" stroke="#F046F0" stroke-width="1" stroke-linecap="butt"/>
<rect x="151.7" y="422.97" width="4" height="4" fill="#F046F0"/>
<polyline points="58,470.93 89.9,463.01 121.8,440.44 153.7,418.6" fill="none" stroke="#FF1A1A" stroke-width="1.1" stroke-linejoin="round" stroke-linecap="round"/>
<line x1="58" y1="470.47" x2="58" y2="471.38" stroke="#FF1A1A" stroke-width="1" stroke-linecap="butt"/>
<line x1="56.4" y1="470.47" x2="59.6" y2="470.47" stroke="#FF1A1A" stroke-width="1" stroke-linecap="butt"/>
<line x1="56.4" y1="471.38" x2="59.6" y2="471.38" stroke="#FF1A1A" stroke-width="1" stroke-linecap="butt"/>
<polygon points="58,468.73 55.8,472.69 60.2,472.69" fill="#FF1A1A"/>
<line x1="89.9" y1="461.64" x2="89.9" y2="464.37" stroke="#FF1A1A" stroke-width="1" stroke-linecap="butt"/>
<line x1="88.3" y1="461.64" x2="91.5" y2="461.64" stroke="#FF1A1A" stroke-width="1" stroke-linecap="butt"/>
<line x1="88.3" y1="464.37" x2="91.5" y2="464.37" stroke="#FF1A1A" stroke-width="1" stroke-linecap="butt"/>
<polygon points="89.9,460.81 87.7,464.77 92.1,464.77" fill="#FF1A1A"/>
<line x1="121.8" y1="433.16" x2="121.8" y2="447.72" stroke="#FF1A1A" stroke-width="1" stroke-linecap="butt"/>
<line x1="120.2" y1="433.16" x2="123.4" y2="433.16" stroke="#FF1A1A" stroke-width="1" stroke-linecap="butt"/>
<line x1="120.2" y1="447.72" x2="123.4" y2="447.72" stroke="#FF1A1A" stroke-width="1" stroke-linecap="butt"/>
<polygon points="121.8,438.24 119.6,442.2 124,442.2" fill="#FF1A1A"/>
<line x1="153.7" y1="409.5" x2="153.7" y2="427.7" stroke="#FF1A1A" stroke-width="1" stroke-linecap="butt"/>
<line x1="152.1" y1="409.5" x2="155.3" y2="409.5" stroke="#FF1A1A" stroke-width="1" stroke-linecap="butt"/>
<line x1="152.1" y1="427.7" x2="155.3" y2="427.7" stroke="#FF1A1A" stroke-width="1" stroke-linecap="butt"/>
<polygon points="153.7,416.4 151.5,420.36 155.9,420.36" fill="#FF1A1A"/>
<polyline points="58,469.65 89.9,467.1 121.8,457.27 153.7,454" fill="none" stroke="#2424F5" stroke-width="1.1" stroke-linejoin="round" stroke-linecap="round"/>
<line x1="58" y1="469.2" x2="58" y2="470.11" stroke="#2424F5" stroke-width="1" stroke-linecap="butt"/>
<line x1="56.4" y1="469.2" x2="59.6" y2="469.2" stroke="#2424F5" stroke-width="1" stroke-linecap="butt"/>
<line x1="56.4" y1="470.11" x2="59.6" y2="470.11" stroke="#2424F5" stroke-width="1" stroke-linecap="butt"/>
<polygon points="58,471.85 55.8,467.89 60.2,467.89" fill="#2424F5"/>
<line x1="89.9" y1="465.74" x2="89.9" y2="468.47" stroke="#2424F5" stroke-width="1" stroke-linecap="butt"/>
<line x1="88.3" y1="465.74" x2="91.5" y2="465.74" stroke="#2424F5" stroke-width="1" stroke-linecap="butt"/>
<line x1="88.3" y1="468.47" x2="91.5" y2="468.47" stroke="#2424F5" stroke-width="1" stroke-linecap="butt"/>
<polygon points="89.9,469.3 87.7,465.34 92.1,465.34" fill="#2424F5"/>
<line x1="121.8" y1="452.27" x2="121.8" y2="462.28" stroke="#2424F5" stroke-width="1" stroke-linecap="butt"/>
<line x1="120.2" y1="452.27" x2="123.4" y2="452.27" stroke="#2424F5" stroke-width="1" stroke-linecap="butt"/>
<line x1="120.2" y1="462.28" x2="123.4" y2="462.28" stroke="#2424F5" stroke-width="1" stroke-linecap="butt"/>
<polygon points="121.8,459.47 119.6,455.51 124,455.51" fill="#2424F5"/>
<line x1="153.7" y1="448.99" x2="153.7" y2="459" stroke="#2424F5" stroke-width="1" stroke-linecap="butt"/>
<line x1="152.1" y1="448.99" x2="155.3" y2="448.99" stroke="#2424F5" stroke-width="1" stroke-linecap="butt"/>
<line x1="152.1" y1="459" x2="155.3" y2="459" stroke="#2424F5" stroke-width="1" stroke-linecap="butt"/>
<polygon points="153.7,456.2 151.5,452.24 155.9,452.24" fill="#2424F5"/>
<line x1="41.2" y1="387.5" x2="50.8" y2="387.5" stroke="#000000" stroke-width="1" stroke-linecap="butt"/>
<circle cx="46" cy="387.5" r="1.8" fill="#000000"/>
<text x="56.3" y="389.8" font-size="6.3" text-anchor="start" fill="#000000" stroke="#000000" stroke-width="0.12">Ctrl</text>
<line x1="41.2" y1="397.3" x2="50.8" y2="397.3" stroke="#F046F0" stroke-width="1" stroke-linecap="butt"/>
<rect x="44.2" y="395.5" width="3.6" height="3.6" fill="#F046F0"/>
<text x="56.3" y="399.6" font-size="6.3" text-anchor="start" fill="#000000" stroke="#000000" stroke-width="0.12">Anti-PD1</text>
<line x1="41.2" y1="407.8" x2="50.8" y2="407.8" stroke="#FF1A1A" stroke-width="1" stroke-linecap="butt"/>
<polygon points="46,405.82 44.02,409.38 47.98,409.38" fill="#FF1A1A"/>
<text x="56.3" y="410.1" font-size="6.3" text-anchor="start" fill="#000000" stroke="#000000" stroke-width="0.12">LC427</text>
<line x1="41.2" y1="417.7" x2="50.8" y2="417.7" stroke="#2424F5" stroke-width="1" stroke-linecap="butt"/>
<polygon points="46,419.68 44.02,416.12 47.98,416.12" fill="#2424F5"/>
<text x="56.3" y="420" font-size="6.3" text-anchor="start" fill="#000000" stroke="#000000" stroke-width="0.12">Anti-PD1+LC427</text>
<line x1="81.6" y1="383.3" x2="81.6" y2="400.2" stroke="#000000" stroke-width="1" stroke-linecap="butt"/>
<text x="90.45" y="391.7" font-size="6.1" text-anchor="middle" stroke="#000" stroke-width="0.12" transform="rotate(-90 90.45 391.7)"><tspan font-style="italic">p</tspan>=0.2233</text>
<line x1="94.9" y1="394.1" x2="94.9" y2="412.2" stroke="#000000" stroke-width="1" stroke-linecap="butt"/>
<text x="103.05" y="403.2" font-size="6.1" text-anchor="middle" stroke="#000" stroke-width="0.12" transform="rotate(-90 103.05 403.2)"><tspan font-style="italic">p</tspan>=0.6610</text>
<line x1="106.6" y1="385.7" x2="106.6" y2="412.8" stroke="#000000" stroke-width="1" stroke-linecap="butt"/>
<text x="114.55" y="398.7" font-size="6.1" text-anchor="middle" stroke="#000" stroke-width="0.12" transform="rotate(-90 114.55 398.7)"><tspan font-style="italic">p</tspan>=0.4746</text>
<line x1="116.6" y1="405.6" x2="116.6" y2="421.3" stroke="#000000" stroke-width="1" stroke-linecap="butt"/>
<text x="124.85" y="414" font-size="6.1" text-anchor="middle" stroke="#000" stroke-width="0.12" transform="rotate(-90 124.85 414)"><tspan font-style="italic">p</tspan>=0.0092</text>
<line x1="127.5" y1="393.5" x2="127.5" y2="421.3" stroke="#000000" stroke-width="1" stroke-linecap="butt"/>
<text x="135.65" y="407.4" font-size="6.1" text-anchor="middle" stroke="#000" stroke-width="0.12" transform="rotate(-90 135.65 407.4)"><tspan font-style="italic">p</tspan>=0.0113</text>
<line x1="206" y1="22.8" x2="501" y2="22.8" stroke="#000000" stroke-width="2.1" stroke-linecap="butt"/>
<text x="348.7" y="14.6" font-size="10.9" text-anchor="middle" fill="#000000" stroke="#000000" stroke-width="0.12">MC38</text>
<line x1="207" y1="193.8" x2="501.8" y2="193.8" stroke="#000000" stroke-width="2.1" stroke-linecap="butt"/>
<text x="347.8" y="183.9" font-size="10.9" text-anchor="middle" fill="#000000" stroke="#000000" stroke-width="0.12">CT26</text>
<line x1="208.7" y1="373.5" x2="503.3" y2="373.5" stroke="#000000" stroke-width="2.1" stroke-linecap="butt"/>
<text x="353.7" y="364.6" font-size="10.9" text-anchor="middle" fill="#000000" stroke="#000000" stroke-width="0.12">B16-GMCSF</text>
<line x1="216.8" y1="50.65" x2="216.8" y2="124.5" stroke="#000000" stroke-width="1" stroke-linecap="butt"/>
<line x1="216.3" y1="124" x2="260.39" y2="124" stroke="#000000" stroke-width="1" stroke-linecap="butt"/>
<line x1="212.8" y1="124" x2="216.8" y2="124" stroke="#000000" stroke-width="0.9" stroke-linecap="butt"/>
<text x="212.4" y="126.15" font-size="5.95" text-anchor="end" fill="#000000" stroke="#000000" stroke-width="0.12">0</text>
<line x1="212.8" y1="99.65" x2="216.8" y2="99.65" stroke="#000000" stroke-width="0.9" stroke-linecap="butt"/>
<text x="212.4" y="101.8" font-size="5.95" text-anchor="end" fill="#000000" stroke="#000000" stroke-width="0.12">500</text>
<line x1="212.8" y1="75.3" x2="216.8" y2="75.3" stroke="#000000" stroke-width="0.9" stroke-linecap="butt"/>
<text x="212.4" y="77.45" font-size="5.95" text-anchor="end" fill="#000000" stroke="#000000" stroke-width="0.12">1000</text>
<line x1="212.8" y1="50.95" x2="216.8" y2="50.95" stroke="#000000" stroke-width="0.9" stroke-linecap="butt"/>
<text x="212.4" y="53.1" font-size="5.95" text-anchor="end" fill="#000000" stroke="#000000" stroke-width="0.12">1500</text>
<line x1="216.8" y1="124" x2="216.8" y2="126.8" stroke="#000000" stroke-width="0.9" stroke-linecap="butt"/>
<text x="216.8" y="133.4" font-size="5.5" text-anchor="middle" fill="#000000" stroke="#000000" stroke-width="0.12">0</text>
<line x1="231.33" y1="124" x2="231.33" y2="126.8" stroke="#000000" stroke-width="0.9" stroke-linecap="butt"/>
<text x="231.33" y="133.4" font-size="5.5" text-anchor="middle" fill="#000000" stroke="#000000" stroke-width="0.12">10</text>
<line x1="245.86" y1="124" x2="245.86" y2="126.8" stroke="#000000" stroke-width="0.9" stroke-linecap="butt"/>
<text x="245.86" y="133.4" font-size="5.5" text-anchor="middle" fill="#000000" stroke="#000000" stroke-width="0.12">20</text>
<line x1="260.39" y1="124" x2="260.39" y2="126.8" stroke="#000000" stroke-width="0.9" stroke-linecap="butt"/>
<text x="260.39" y="133.4" font-size="5.5" text-anchor="middle" fill="#000000" stroke="#000000" stroke-width="0.12">30</text>
<text x="239" y="143.1" font-size="6" text-anchor="middle" fill="#000000" stroke="#000000" stroke-width="0.12">Time (days)</text>
<text x="196.2" y="87.5" font-size="6.2" text-anchor="middle" stroke="#000" stroke-width="0.12" transform="rotate(-90 196.2 87.5)">Volume of Tumor (mm<tspan font-size="3.84" dy="-2.36">3</tspan><tspan dy="2.36">)</tspan></text>
<text x="238.9" y="40.9" font-size="6.8" text-anchor="middle" fill="#000000" stroke="#000000" stroke-width="0.12" font-weight="bold">Ctrl</text>
<polyline points="227.09,121.07 236.5,114.23 240.77,101.41 243.33,100.56 248.46,77.48 257.86,67.74" fill="none" stroke="#000000" stroke-width="0.95" stroke-linejoin="round" stroke-linecap="round"/>
<polyline points="227.09,121.92 237.35,116.79 244.19,99.7 248.46,87.74 252.74,80.04" fill="none" stroke="#000000" stroke-width="0.95" stroke-linejoin="round" stroke-linecap="round"/>
<polyline points="227.44,121.58 235.64,117.65 242.48,108.25 246.75,92.86 251.03,85.17 257.01,80.04" fill="none" stroke="#000000" stroke-width="0.95" stroke-linejoin="round" stroke-linecap="round"/>
<polyline points="227.95,122.26 237.35,118.5 243.33,104.83 247.61,92.01 253.59,90.3" fill="none" stroke="#000000" stroke-width="0.95" stroke-linejoin="round" stroke-linecap="round"/>
<polyline points="227.09,121.41 238.21,117.65 244.19,103.12 249.32,88.59 257.86,84.32" fill="none" stroke="#000000" stroke-width="0.95" stroke-linejoin="round" stroke-linecap="round"/>
<polyline points="227.95,121.92 239.06,118.5 245.04,101.41 250.17,89.44 254.44,82.61" fill="none" stroke="#000000" stroke-width="0.95" stroke-linejoin="round" stroke-linecap="round"/>
<polyline points="227.09,122.26 236.5,118.5 242.48,106.54 245.9,94.57 251.88,86.03" fill="none" stroke="#000000" stroke-width="0.95" stroke-linejoin="round" stroke-linecap="round"/>
<polyline points="227.61,121.24 237.35,115.94 241.62,103.97 246.75,89.44 252.74,81.75" fill="none" stroke="#000000" stroke-width="0.95" stroke-linejoin="round" stroke-linecap="round"/>
<line x1="297.5" y1="50.65" x2="297.5" y2="124.5" stroke="#000000" stroke-width="1" stroke-linecap="butt"/>
<line x1="297" y1="124" x2="340.7" y2="124" stroke="#000000" stroke-width="1" stroke-linecap="butt"/>
<line x1="293.5" y1="124" x2="297.5" y2="124" stroke="#000000" stroke-width="0.9" stroke-linecap="butt"/>
<text x="293.1" y="126.15" font-size="5.95" text-anchor="end" fill="#000000" stroke="#000000" stroke-width="0.12">0</text>
<line x1="293.5" y1="99.65" x2="297.5" y2="99.65" stroke="#000000" stroke-width="0.9" stroke-linecap="butt"/>
<text x="293.1" y="101.8" font-size="5.95" text-anchor="end" fill="#000000" stroke="#000000" stroke-width="0.12">500</text>
<line x1="293.5" y1="75.3" x2="297.5" y2="75.3" stroke="#000000" stroke-width="0.9" stroke-linecap="butt"/>
<text x="293.1" y="77.45" font-size="5.95" text-anchor="end" fill="#000000" stroke="#000000" stroke-width="0.12">1000</text>
<line x1="293.5" y1="50.95" x2="297.5" y2="50.95" stroke="#000000" stroke-width="0.9" stroke-linecap="butt"/>
<text x="293.1" y="53.1" font-size="5.95" text-anchor="end" fill="#000000" stroke="#000000" stroke-width="0.12">1500</text>
<line x1="297.5" y1="124" x2="297.5" y2="126.8" stroke="#000000" stroke-width="0.9" stroke-linecap="butt"/>
<text x="297.5" y="133.4" font-size="5.5" text-anchor="middle" fill="#000000" stroke="#000000" stroke-width="0.12">0</text>
<line x1="311.9" y1="124" x2="311.9" y2="126.8" stroke="#000000" stroke-width="0.9" stroke-linecap="butt"/>
<text x="311.9" y="133.4" font-size="5.5" text-anchor="middle" fill="#000000" stroke="#000000" stroke-width="0.12">20</text>
<line x1="326.3" y1="124" x2="326.3" y2="126.8" stroke="#000000" stroke-width="0.9" stroke-linecap="butt"/>
<text x="326.3" y="133.4" font-size="5.5" text-anchor="middle" fill="#000000" stroke="#000000" stroke-width="0.12">40</text>
<line x1="340.7" y1="124" x2="340.7" y2="126.8" stroke="#000000" stroke-width="0.9" stroke-linecap="butt"/>
<text x="340.7" y="133.4" font-size="5.5" text-anchor="middle" fill="#000000" stroke="#000000" stroke-width="0.12">60</text>
<text x="319.8" y="143.1" font-size="6" text-anchor="middle" fill="#000000" stroke="#000000" stroke-width="0.12">Time(days)</text>
<text x="276.9" y="87.5" font-size="6.2" text-anchor="middle" stroke="#000" stroke-width="0.12" transform="rotate(-90 276.9 87.5)">Volume of Tumor (mm<tspan font-size="3.84" dy="-2.36">3</tspan><tspan dy="2.36">)</tspan></text>
<text x="319.5" y="40.9" font-size="6" text-anchor="middle" fill="#000000" stroke="#000000" stroke-width="0.12" font-weight="bold">Anti-PD1</text>
<polyline points="303.08,121.37 304.89,116.85 306.7,115.95 309.41,115.59 312.12,117.76 313.93,119.57 315.74,99.67 317.19,83.4 317.91,81.59 318.63,63.51" fill="none" stroke="#F046F0" stroke-width="0.95" stroke-linejoin="round" stroke-linecap="round"/>
<polyline points="303.08,121.37 306.7,116.85 311.76,106 313.03,112.33 314.84,115.95 316.65,94.25 317.55,83.4" fill="none" stroke="#F046F0" stroke-width="0.95" stroke-linejoin="round" stroke-linecap="round"/>
<polyline points="303.99,122.28 307.6,117.76 311.22,115.05 313.93,117.76 316.65,118.66 320.26,115.05 322.97,103.29 325.69,89.73 328.4,83.4 331.47,69.84" fill="none" stroke="#F046F0" stroke-width="0.95" stroke-linejoin="round" stroke-linecap="round"/>
<polyline points="304.89,122.28 310.32,117.76 315.74,117.76 320.26,114.14 323.88,99.67 326.59,88.82 330.21,82.5 331.47,70.74" fill="none" stroke="#F046F0" stroke-width="0.95" stroke-linejoin="round" stroke-linecap="round"/>
<polyline points="303.08,122.28 306.7,119.57 310.32,122.28 312.12,123.73" fill="none" stroke="#F046F0" stroke-width="0.95" stroke-linejoin="round" stroke-linecap="round"/>
<polyline points="303.99,120.47 307.6,117.76 310.32,120.47 313.03,123.18 314.84,123.73" fill="none" stroke="#F046F0" stroke-width="0.95" stroke-linejoin="round" stroke-linecap="round"/>
<polyline points="313.03,123.73 332.92,123.73" fill="none" stroke="#F046F0" stroke-width="0.95" stroke-linejoin="round" stroke-linecap="round"/>
<polyline points="303.08,122.28 308.51,115.05 313.03,114.14 315.74,116.85 320.26,115.95" fill="none" stroke="#F046F0" stroke-width="0.95" stroke-linejoin="round" stroke-linecap="round"/>
<line x1="378" y1="50.65" x2="378" y2="124.5" stroke="#000000" stroke-width="1" stroke-linecap="butt"/>
<line x1="377.5" y1="124" x2="420.54" y2="124" stroke="#000000" stroke-width="1" stroke-linecap="butt"/>
<line x1="374" y1="124" x2="378" y2="124" stroke="#000000" stroke-width="0.9" stroke-linecap="butt"/>
<text x="373.6" y="126.15" font-size="5.95" text-anchor="end" fill="#000000" stroke="#000000" stroke-width="0.12">0</text>
<line x1="374" y1="99.65" x2="378" y2="99.65" stroke="#000000" stroke-width="0.9" stroke-linecap="butt"/>
<text x="373.6" y="101.8" font-size="5.95" text-anchor="end" fill="#000000" stroke="#000000" stroke-width="0.12">500</text>
<line x1="374" y1="75.3" x2="378" y2="75.3" stroke="#000000" stroke-width="0.9" stroke-linecap="butt"/>
<text x="373.6" y="77.45" font-size="5.95" text-anchor="end" fill="#000000" stroke="#000000" stroke-width="0.12">1000</text>
<line x1="374" y1="50.95" x2="378" y2="50.95" stroke="#000000" stroke-width="0.9" stroke-linecap="butt"/>
<text x="373.6" y="53.1" font-size="5.95" text-anchor="end" fill="#000000" stroke="#000000" stroke-width="0.12">1500</text>
<line x1="378" y1="124" x2="378" y2="126.8" stroke="#000000" stroke-width="0.9" stroke-linecap="butt"/>
<text x="378" y="133.4" font-size="5.5" text-anchor="middle" fill="#000000" stroke="#000000" stroke-width="0.12">0</text>
<line x1="392.18" y1="124" x2="392.18" y2="126.8" stroke="#000000" stroke-width="0.9" stroke-linecap="butt"/>
<text x="392.18" y="133.4" font-size="5.5" text-anchor="middle" fill="#000000" stroke="#000000" stroke-width="0.12">20</text>
<line x1="406.36" y1="124" x2="406.36" y2="126.8" stroke="#000000" stroke-width="0.9" stroke-linecap="butt"/>
<text x="406.36" y="133.4" font-size="5.5" text-anchor="middle" fill="#000000" stroke="#000000" stroke-width="0.12">40</text>
<line x1="420.54" y1="124" x2="420.54" y2="126.8" stroke="#000000" stroke-width="0.9" stroke-linecap="butt"/>
<text x="420.54" y="133.4" font-size="5.5" text-anchor="middle" fill="#000000" stroke="#000000" stroke-width="0.12">60</text>
<text x="399.8" y="143.1" font-size="6" text-anchor="middle" fill="#000000" stroke="#000000" stroke-width="0.12">Time(days)</text>
<text x="357.4" y="87.5" font-size="6.2" text-anchor="middle" stroke="#000" stroke-width="0.12" transform="rotate(-90 357.4 87.5)">Volume of Tumor (mm<tspan font-size="3.84" dy="-2.36">3</tspan><tspan dy="2.36">)</tspan></text>
<text x="399.3" y="40.9" font-size="7" text-anchor="middle" fill="#000000" stroke="#000000" stroke-width="0.12" font-weight="bold">LC427</text>
<polyline points="383.11,122.78 387.38,120.21 392.51,116.79 396.79,103.97 400.21,88.59 402.43,84.66" fill="none" stroke="#FF1A1A" stroke-width="0.95" stroke-linejoin="round" stroke-linecap="round"/>
<polyline points="383.11,122.78 394.22,119.36 399.35,109.96 403.62,92.86 406.19,78.33 406.7,73.21" fill="none" stroke="#FF1A1A" stroke-width="0.95" stroke-linejoin="round" stroke-linecap="round"/>
<polyline points="384.82,122.78 397.64,120.21 401.91,108.25 405.33,92.86 408.75,83.46 410.97,81.75" fill="none" stroke="#FF1A1A" stroke-width="0.95" stroke-linejoin="round" stroke-linecap="round"/>
<polyline points="386.53,122.78 399.35,120.21 404.48,103.12 407.9,87.74 409.95,82.26" fill="none" stroke="#FF1A1A" stroke-width="0.95" stroke-linejoin="round" stroke-linecap="round"/>
<polyline points="383.11,122.78 390.8,119.87 395.93,113.38 399.35,89.44 401.4,86.03" fill="none" stroke="#FF1A1A" stroke-width="0.95" stroke-linejoin="round" stroke-linecap="round"/>
<polyline points="383.97,122.78 395.93,121.07 401.06,111.67 404.48,96.28 407.04,80.9" fill="none" stroke="#FF1A1A" stroke-width="0.95" stroke-linejoin="round" stroke-linecap="round"/>
<polyline points="383.11,123.63 413.03,123.63" fill="none" stroke="#FF1A1A" stroke-width="0.95" stroke-linejoin="round" stroke-linecap="round"/>
<polyline points="383.97,122.26 388.24,119.87 392.51,121.92 397.64,123.29" fill="none" stroke="#FF1A1A" stroke-width="0.95" stroke-linejoin="round" stroke-linecap="round"/>
<line x1="457.2" y1="50.65" x2="457.2" y2="124.5" stroke="#000000" stroke-width="1" stroke-linecap="butt"/>
<line x1="456.7" y1="124" x2="501.6" y2="124" stroke="#000000" stroke-width="1" stroke-linecap="butt"/>
<line x1="453.2" y1="124" x2="457.2" y2="124" stroke="#000000" stroke-width="0.9" stroke-linecap="butt"/>
<text x="452.8" y="126.15" font-size="5.95" text-anchor="end" fill="#000000" stroke="#000000" stroke-width="0.12">0</text>
<line x1="453.2" y1="99.65" x2="457.2" y2="99.65" stroke="#000000" stroke-width="0.9" stroke-linecap="butt"/>
<text x="452.8" y="101.8" font-size="5.95" text-anchor="end" fill="#000000" stroke="#000000" stroke-width="0.12">500</text>
<line x1="453.2" y1="75.3" x2="457.2" y2="75.3" stroke="#000000" stroke-width="0.9" stroke-linecap="butt"/>
<text x="452.8" y="77.45" font-size="5.95" text-anchor="end" fill="#000000" stroke="#000000" stroke-width="0.12">1000</text>
<line x1="453.2" y1="50.95" x2="457.2" y2="50.95" stroke="#000000" stroke-width="0.9" stroke-linecap="butt"/>
<text x="452.8" y="53.1" font-size="5.95" text-anchor="end" fill="#000000" stroke="#000000" stroke-width="0.12">1500</text>
<line x1="457.2" y1="124" x2="457.2" y2="126.8" stroke="#000000" stroke-width="0.9" stroke-linecap="butt"/>
<text x="457.2" y="133.4" font-size="5.5" text-anchor="middle" fill="#000000" stroke="#000000" stroke-width="0.12">0</text>
<line x1="468.3" y1="124" x2="468.3" y2="126.8" stroke="#000000" stroke-width="0.9" stroke-linecap="butt"/>
<text x="468.3" y="133.4" font-size="5.5" text-anchor="middle" fill="#000000" stroke="#000000" stroke-width="0.12">20</text>
<line x1="479.4" y1="124" x2="479.4" y2="126.8" stroke="#000000" stroke-width="0.9" stroke-linecap="butt"/>
<text x="479.4" y="133.4" font-size="5.5" text-anchor="middle" fill="#000000" stroke="#000000" stroke-width="0.12">40</text>
<line x1="490.5" y1="124" x2="490.5" y2="126.8" stroke="#000000" stroke-width="0.9" stroke-linecap="butt"/>
<text x="490.5" y="133.4" font-size="5.5" text-anchor="middle" fill="#000000" stroke="#000000" stroke-width="0.12">60</text>
<line x1="501.6" y1="124" x2="501.6" y2="126.8" stroke="#000000" stroke-width="0.9" stroke-linecap="butt"/>
<text x="501.6" y="133.4" font-size="5.5" text-anchor="middle" fill="#000000" stroke="#000000" stroke-width="0.12">80</text>
<text x="479.8" y="143.1" font-size="6" text-anchor="middle" fill="#000000" stroke="#000000" stroke-width="0.12">Time (days)</text>
<text x="436.6" y="87.5" font-size="6.2" text-anchor="middle" stroke="#000" stroke-width="0.12" transform="rotate(-90 436.6 87.5)">Volume of Tumor (mm<tspan font-size="3.84" dy="-2.36">3</tspan><tspan dy="2.36">)</tspan></text>
<text x="479.5" y="40.9" font-size="6" text-anchor="middle" fill="#000000" stroke="#000000" stroke-width="0.12" font-weight="bold">Anti-PD1+LC427</text>
<polyline points="461.64,120.47 463.99,119.57 465.8,109.62 467.06,119.57 468.51,115.05 469.95,113.24 471.22,117.76 473.03,120.47 474.84,119.57" fill="none" stroke="#2424F5" stroke-width="0.95" stroke-linejoin="round" stroke-linecap="round"/>
<polyline points="462.18,122.28 464.89,119.57 467.06,121.37 468.51,115.05 470.32,113.78 471.76,119.57 473.93,120.47 476.65,115.95 480.26,111.43 482.97,104.2 485.69,94.25 488.4,80.69 491.11,71.65" fill="none" stroke="#2424F5" stroke-width="0.95" stroke-linejoin="round" stroke-linecap="round"/>
<polyline points="462.18,122.28 465.8,120.47 469.41,123.18 473.93,120.47 477.55,115.95 481.17,106.91 482.97,96.06 484.78,93.35" fill="none" stroke="#2424F5" stroke-width="0.95" stroke-linejoin="round" stroke-linecap="round"/>
<polyline points="461.64,121.37 464.89,117.76 466.34,120.47 468.15,119.57 470.32,122.28" fill="none" stroke="#2424F5" stroke-width="0.95" stroke-linejoin="round" stroke-linecap="round"/>
<polyline points="461.27,123.73 491.11,123.73" fill="none" stroke="#2424F5" stroke-width="0.95" stroke-linejoin="round" stroke-linecap="round"/>
<polyline points="463.08,122.82 472.12,121.37 476.65,116.85 480.26,110.52 482.07,101.48 483.88,95.15" fill="none" stroke="#2424F5" stroke-width="0.95" stroke-linejoin="round" stroke-linecap="round"/>
<line x1="216.8" y1="223.65" x2="216.8" y2="296.9" stroke="#000000" stroke-width="1" stroke-linecap="butt"/>
<line x1="216.3" y1="296.4" x2="260.39" y2="296.4" stroke="#000000" stroke-width="1" stroke-linecap="butt"/>
<line x1="212.8" y1="296.4" x2="216.8" y2="296.4" stroke="#000000" stroke-width="0.9" stroke-linecap="butt"/>
<text x="212.4" y="298.55" font-size="5.95" text-anchor="end" fill="#000000" stroke="#000000" stroke-width="0.12">0</text>
<line x1="212.8" y1="272.25" x2="216.8" y2="272.25" stroke="#000000" stroke-width="0.9" stroke-linecap="butt"/>
<text x="212.4" y="274.4" font-size="5.95" text-anchor="end" fill="#000000" stroke="#000000" stroke-width="0.12">500</text>
<line x1="212.8" y1="248.1" x2="216.8" y2="248.1" stroke="#000000" stroke-width="0.9" stroke-linecap="butt"/>
<text x="212.4" y="250.25" font-size="5.95" text-anchor="end" fill="#000000" stroke="#000000" stroke-width="0.12">1000</text>
<line x1="212.8" y1="223.95" x2="216.8" y2="223.95" stroke="#000000" stroke-width="0.9" stroke-linecap="butt"/>
<text x="212.4" y="226.1" font-size="5.95" text-anchor="end" fill="#000000" stroke="#000000" stroke-width="0.12">1500</text>
<line x1="216.8" y1="296.4" x2="216.8" y2="299.2" stroke="#000000" stroke-width="0.9" stroke-linecap="butt"/>
<text x="216.8" y="305.8" font-size="5.5" text-anchor="middle" fill="#000000" stroke="#000000" stroke-width="0.12">0</text>
<line x1="231.33" y1="296.4" x2="231.33" y2="299.2" stroke="#000000" stroke-width="0.9" stroke-linecap="butt"/>
<text x="231.33" y="305.8" font-size="5.5" text-anchor="middle" fill="#000000" stroke="#000000" stroke-width="0.12">10</text>
<line x1="245.86" y1="296.4" x2="245.86" y2="299.2" stroke="#000000" stroke-width="0.9" stroke-linecap="butt"/>
<text x="245.86" y="305.8" font-size="5.5" text-anchor="middle" fill="#000000" stroke="#000000" stroke-width="0.12">20</text>
<line x1="260.39" y1="296.4" x2="260.39" y2="299.2" stroke="#000000" stroke-width="0.9" stroke-linecap="butt"/>
<text x="260.39" y="305.8" font-size="5.5" text-anchor="middle" fill="#000000" stroke="#000000" stroke-width="0.12">30</text>
<text x="239" y="315.2" font-size="6" text-anchor="middle" fill="#000000" stroke="#000000" stroke-width="0.12">Time (days)</text>
<text x="196.2" y="258.5" font-size="6.2" text-anchor="middle" stroke="#000" stroke-width="0.12" transform="rotate(-90 196.2 258.5)">Volume of Tumor (mm<tspan font-size="3.84" dy="-2.36">3</tspan><tspan dy="2.36">)</tspan></text>
<text x="238.5" y="213.6" font-size="6.5" text-anchor="middle" fill="#000000" stroke="#000000" stroke-width="0.12" font-weight="bold">Ctrl</text>
<polyline points="226.7,294.09 232.12,290.47 237.55,276.91 241.17,262.44 243.88,248.88 248.4,243.45" fill="none" stroke="#000000" stroke-width="0.95" stroke-linejoin="round" stroke-linecap="round"/>
<polyline points="226.7,294.09 232.12,291.37 236.65,282.33 241.17,271.48 245.69,260.63 250.21,248.88 253.82,237.12 257.44,228.99" fill="none" stroke="#000000" stroke-width="0.95" stroke-linejoin="round" stroke-linecap="round"/>
<polyline points="227.06,294.27 233.03,291.37 238.45,280.52 242.97,269.67 248.4,257.02 252.92,245.26 256.54,233.51" fill="none" stroke="#000000" stroke-width="0.95" stroke-linejoin="round" stroke-linecap="round"/>
<polyline points="227.6,294.27 233.93,291.74 240.26,279.62 245.69,266.06 250.21,253.4 257.44,243.45" fill="none" stroke="#000000" stroke-width="0.95" stroke-linejoin="round" stroke-linecap="round"/>
<polyline points="226.7,294.09 232.12,291.74 237.55,281.43 243.88,267.87 249.3,255.21 252.92,247.07 257.44,249.78" fill="none" stroke="#000000" stroke-width="0.95" stroke-linejoin="round" stroke-linecap="round"/>
<polyline points="228.15,294.27 234.84,291.37 241.17,276.91 246.59,264.25 252.02,251.59 254.73,246.17" fill="none" stroke="#000000" stroke-width="0.95" stroke-linejoin="round" stroke-linecap="round"/>
<polyline points="226.7,294.09 232.12,291.01 237.19,280.52 242.07,269.67 247.5,258.82 252.38,247.07 254.73,238.93" fill="none" stroke="#000000" stroke-width="0.95" stroke-linejoin="round" stroke-linecap="round"/>
<polyline points="228.51,294.27 235.74,291.01 242.97,275.1 248.4,262.44 252.92,253.4 257.44,247.97" fill="none" stroke="#000000" stroke-width="0.95" stroke-linejoin="round" stroke-linecap="round"/>
<polyline points="227.06,294.09 233.57,291.01 239.36,278.72 244.78,266.96 250.21,255.21 255.63,241.65" fill="none" stroke="#000000" stroke-width="0.95" stroke-linejoin="round" stroke-linecap="round"/>
<line x1="297.5" y1="223.65" x2="297.5" y2="296.9" stroke="#000000" stroke-width="1" stroke-linecap="butt"/>
<line x1="297" y1="296.4" x2="341.5" y2="296.4" stroke="#000000" stroke-width="1" stroke-linecap="butt"/>
<line x1="293.5" y1="296.4" x2="297.5" y2="296.4" stroke="#000000" stroke-width="0.9" stroke-linecap="butt"/>
<text x="293.1" y="298.55" font-size="5.95" text-anchor="end" fill="#000000" stroke="#000000" stroke-width="0.12">0</text>
<line x1="293.5" y1="272.25" x2="297.5" y2="272.25" stroke="#000000" stroke-width="0.9" stroke-linecap="butt"/>
<text x="293.1" y="274.4" font-size="5.95" text-anchor="end" fill="#000000" stroke="#000000" stroke-width="0.12">500</text>
<line x1="293.5" y1="248.1" x2="297.5" y2="248.1" stroke="#000000" stroke-width="0.9" stroke-linecap="butt"/>
<text x="293.1" y="250.25" font-size="5.95" text-anchor="end" fill="#000000" stroke="#000000" stroke-width="0.12">1000</text>
<line x1="293.5" y1="223.95" x2="297.5" y2="223.95" stroke="#000000" stroke-width="0.9" stroke-linecap="butt"/>
<text x="293.1" y="226.1" font-size="5.95" text-anchor="end" fill="#000000" stroke="#000000" stroke-width="0.12">1500</text>
<line x1="297.5" y1="296.4" x2="297.5" y2="299.2" stroke="#000000" stroke-width="0.9" stroke-linecap="butt"/>
<text x="297.5" y="305.8" font-size="5.5" text-anchor="middle" fill="#000000" stroke="#000000" stroke-width="0.12">0</text>
<line x1="308.5" y1="296.4" x2="308.5" y2="299.2" stroke="#000000" stroke-width="0.9" stroke-linecap="butt"/>
<text x="308.5" y="305.8" font-size="5.5" text-anchor="middle" fill="#000000" stroke="#000000" stroke-width="0.12">10</text>
<line x1="319.5" y1="296.4" x2="319.5" y2="299.2" stroke="#000000" stroke-width="0.9" stroke-linecap="butt"/>
<text x="319.5" y="305.8" font-size="5.5" text-anchor="middle" fill="#000000" stroke="#000000" stroke-width="0.12">20</text>
<line x1="330.5" y1="296.4" x2="330.5" y2="299.2" stroke="#000000" stroke-width="0.9" stroke-linecap="butt"/>
<text x="330.5" y="305.8" font-size="5.5" text-anchor="middle" fill="#000000" stroke="#000000" stroke-width="0.12">30</text>
<line x1="341.5" y1="296.4" x2="341.5" y2="299.2" stroke="#000000" stroke-width="0.9" stroke-linecap="butt"/>
<text x="341.5" y="305.8" font-size="5.5" text-anchor="middle" fill="#000000" stroke="#000000" stroke-width="0.12">40</text>
<text x="319.8" y="315.2" font-size="6" text-anchor="middle" fill="#000000" stroke="#000000" stroke-width="0.12">Time (days)</text>
<text x="276.9" y="258.5" font-size="6.2" text-anchor="middle" stroke="#000" stroke-width="0.12" transform="rotate(-90 276.9 258.5)">Volume of Tumor (mm<tspan font-size="3.84" dy="-2.36">3</tspan><tspan dy="2.36">)</tspan></text>
<text x="319.3" y="213.6" font-size="6" text-anchor="middle" fill="#000000" stroke="#000000" stroke-width="0.12" font-weight="bold">Anti-PD1</text>
<polyline points="304.89,294.99 312.12,289.57 318.45,279.62 322.07,269.67 323.88,251.59 324.78,235.32" fill="none" stroke="#F046F0" stroke-width="0.95" stroke-linejoin="round" stroke-linecap="round"/>
<polyline points="304.89,294.99 313.03,288.66 320.26,277.81 323.34,262.44 324.42,244.36" fill="none" stroke="#F046F0" stroke-width="0.95" stroke-linejoin="round" stroke-linecap="round"/>
<polyline points="305.8,294.99 313.93,291.37 321.17,282.33 325.69,269.67 329.3,257.02 331.65,245.26" fill="none" stroke="#F046F0" stroke-width="0.95" stroke-linejoin="round" stroke-linecap="round"/>
<polyline points="305.8,294.63 312.12,281.43 316.65,277.81 320.26,272.39 323.88,265.15 328.4,260.63 331.65,259.73" fill="none" stroke="#F046F0" stroke-width="0.95" stroke-linejoin="round" stroke-linecap="round"/>
<polyline points="306.7,295.35 314.84,292.28 322.97,287.76 327.5,276.91 331.11,261.54" fill="none" stroke="#F046F0" stroke-width="0.95" stroke-linejoin="round" stroke-linecap="round"/>
<polyline points="308.51,295.9 315.74,293.18 323.88,289.57 328.4,278.72 331.65,262.44" fill="none" stroke="#F046F0" stroke-width="0.95" stroke-linejoin="round" stroke-linecap="round"/>
<polyline points="304.89,294.09 311.22,285.95 317.55,278.72 322.07,275.1 326.59,266.06 331.11,262.44" fill="none" stroke="#F046F0" stroke-width="0.95" stroke-linejoin="round" stroke-linecap="round"/>
<polyline points="312.12,296.44 320.26,292.28 324.78,285.95 328.4,275.1" fill="none" stroke="#F046F0" stroke-width="0.95" stroke-linejoin="round" stroke-linecap="round"/>
<line x1="378" y1="223.65" x2="378" y2="296.9" stroke="#000000" stroke-width="1" stroke-linecap="butt"/>
<line x1="377.5" y1="296.4" x2="420.88" y2="296.4" stroke="#000000" stroke-width="1" stroke-linecap="butt"/>
<line x1="374" y1="296.4" x2="378" y2="296.4" stroke="#000000" stroke-width="0.9" stroke-linecap="butt"/>
<text x="373.6" y="298.55" font-size="5.95" text-anchor="end" fill="#000000" stroke="#000000" stroke-width="0.12">0</text>
<line x1="374" y1="272.25" x2="378" y2="272.25" stroke="#000000" stroke-width="0.9" stroke-linecap="butt"/>
<text x="373.6" y="274.4" font-size="5.95" text-anchor="end" fill="#000000" stroke="#000000" stroke-width="0.12">500</text>
<line x1="374" y1="248.1" x2="378" y2="248.1" stroke="#000000" stroke-width="0.9" stroke-linecap="butt"/>
<text x="373.6" y="250.25" font-size="5.95" text-anchor="end" fill="#000000" stroke="#000000" stroke-width="0.12">1000</text>
<line x1="374" y1="223.95" x2="378" y2="223.95" stroke="#000000" stroke-width="0.9" stroke-linecap="butt"/>
<text x="373.6" y="226.1" font-size="5.95" text-anchor="end" fill="#000000" stroke="#000000" stroke-width="0.12">1500</text>
<line x1="378" y1="296.4" x2="378" y2="299.2" stroke="#000000" stroke-width="0.9" stroke-linecap="butt"/>
<text x="378" y="305.8" font-size="5.5" text-anchor="middle" fill="#000000" stroke="#000000" stroke-width="0.12">0</text>
<line x1="388.72" y1="296.4" x2="388.72" y2="299.2" stroke="#000000" stroke-width="0.9" stroke-linecap="butt"/>
<text x="388.72" y="305.8" font-size="5.5" text-anchor="middle" fill="#000000" stroke="#000000" stroke-width="0.12">10</text>
<line x1="399.44" y1="296.4" x2="399.44" y2="299.2" stroke="#000000" stroke-width="0.9" stroke-linecap="butt"/>
<text x="399.44" y="305.8" font-size="5.5" text-anchor="middle" fill="#000000" stroke="#000000" stroke-width="0.12">20</text>
<line x1="410.16" y1="296.4" x2="410.16" y2="299.2" stroke="#000000" stroke-width="0.9" stroke-linecap="butt"/>
<text x="410.16" y="305.8" font-size="5.5" text-anchor="middle" fill="#000000" stroke="#000000" stroke-width="0.12">30</text>
<line x1="420.88" y1="296.4" x2="420.88" y2="299.2" stroke="#000000" stroke-width="0.9" stroke-linecap="butt"/>
<text x="420.88" y="305.8" font-size="5.5" text-anchor="middle" fill="#000000" stroke="#000000" stroke-width="0.12">40</text>
<text x="399.8" y="315.2" font-size="6" text-anchor="middle" fill="#000000" stroke="#000000" stroke-width="0.12">Time(days)</text>
<text x="357.4" y="258.5" font-size="6.2" text-anchor="middle" stroke="#000" stroke-width="0.12" transform="rotate(-90 357.4 258.5)">Volume of Tumor (mm<tspan font-size="3.84" dy="-2.36">3</tspan><tspan dy="2.36">)</tspan></text>
<text x="399" y="213.6" font-size="6.8" text-anchor="middle" fill="#000000" stroke="#000000" stroke-width="0.12" font-weight="bold">LC427</text>
<polyline points="385.55,294.73 391.58,292.16 396.11,285.37 399.88,273.29 402.9,252.17 404.71,236.32" fill="none" stroke="#FF1A1A" stroke-width="0.95" stroke-linejoin="round" stroke-linecap="round"/>
<polyline points="386.3,294.73 392.34,291.41 396.87,283.86 400.64,270.28 403.35,255.18 404.41,246.13" fill="none" stroke="#FF1A1A" stroke-width="0.95" stroke-linejoin="round" stroke-linecap="round"/>
<polyline points="387.06,294.73 393.09,291.41 397.62,283.1 401.39,268.77 403.66,256.69 403.96,251.41" fill="none" stroke="#FF1A1A" stroke-width="0.95" stroke-linejoin="round" stroke-linecap="round"/>
<polyline points="385.55,294.73 390.83,292.91 395.36,286.88 399.13,276.31 402.15,262.73 403.66,255.18" fill="none" stroke="#FF1A1A" stroke-width="0.95" stroke-linejoin="round" stroke-linecap="round"/>
<polyline points="387.81,294.73 393.85,291.41 398.37,280.84 401.39,270.28 403.35,261.22" fill="none" stroke="#FF1A1A" stroke-width="0.95" stroke-linejoin="round" stroke-linecap="round"/>
<polyline points="386.3,294.73 392.34,292.16 396.87,286.12 400.64,274.8 402.9,265.75" fill="none" stroke="#FF1A1A" stroke-width="0.95" stroke-linejoin="round" stroke-linecap="round"/>
<polyline points="388.56,295.03 394.6,292.16 399.13,284.61 402.15,273.29 403.96,264.24" fill="none" stroke="#FF1A1A" stroke-width="0.95" stroke-linejoin="round" stroke-linecap="round"/>
<polyline points="393.09,295.18 400.64,288.39 405.17,282.35 406.98,280.09 410.45,264.24 414.22,247.34" fill="none" stroke="#FF1A1A" stroke-width="0.95" stroke-linejoin="round" stroke-linecap="round"/>
<polyline points="394.6,295.63 400.64,291.41 405.92,287.63 407.43,280.84 411.2,264.99 414.67,252.92" fill="none" stroke="#FF1A1A" stroke-width="0.95" stroke-linejoin="round" stroke-linecap="round"/>
<polyline points="394.6,295.63 414.22,295.63" fill="none" stroke="#FF1A1A" stroke-width="0.95" stroke-linejoin="round" stroke-linecap="round"/>
<line x1="457.2" y1="223.65" x2="457.2" y2="296.9" stroke="#000000" stroke-width="1" stroke-linecap="butt"/>
<line x1="456.7" y1="296.4" x2="501.6" y2="296.4" stroke="#000000" stroke-width="1" stroke-linecap="butt"/>
<line x1="453.2" y1="296.4" x2="457.2" y2="296.4" stroke="#000000" stroke-width="0.9" stroke-linecap="butt"/>
<text x="452.8" y="298.55" font-size="5.95" text-anchor="end" fill="#000000" stroke="#000000" stroke-width="0.12">0</text>
<line x1="453.2" y1="272.25" x2="457.2" y2="272.25" stroke="#000000" stroke-width="0.9" stroke-linecap="butt"/>
<text x="452.8" y="274.4" font-size="5.95" text-anchor="end" fill="#000000" stroke="#000000" stroke-width="0.12">500</text>
<line x1="453.2" y1="248.1" x2="457.2" y2="248.1" stroke="#000000" stroke-width="0.9" stroke-linecap="butt"/>
<text x="452.8" y="250.25" font-size="5.95" text-anchor="end" fill="#000000" stroke="#000000" stroke-width="0.12">1000</text>
<line x1="453.2" y1="223.95" x2="457.2" y2="223.95" stroke="#000000" stroke-width="0.9" stroke-linecap="butt"/>
<text x="452.8" y="226.1" font-size="5.95" text-anchor="end" fill="#000000" stroke="#000000" stroke-width="0.12">1500</text>
<line x1="457.2" y1="296.4" x2="457.2" y2="299.2" stroke="#000000" stroke-width="0.9" stroke-linecap="butt"/>
<text x="457.2" y="305.8" font-size="5.5" text-anchor="middle" fill="#000000" stroke="#000000" stroke-width="0.12">0</text>
<line x1="468.3" y1="296.4" x2="468.3" y2="299.2" stroke="#000000" stroke-width="0.9" stroke-linecap="butt"/>
<text x="468.3" y="305.8" font-size="5.5" text-anchor="middle" fill="#000000" stroke="#000000" stroke-width="0.12">20</text>
<line x1="479.4" y1="296.4" x2="479.4" y2="299.2" stroke="#000000" stroke-width="0.9" stroke-linecap="butt"/>
<text x="479.4" y="305.8" font-size="5.5" text-anchor="middle" fill="#000000" stroke="#000000" stroke-width="0.12">40</text>
<line x1="490.5" y1="296.4" x2="490.5" y2="299.2" stroke="#000000" stroke-width="0.9" stroke-linecap="butt"/>
<text x="490.5" y="305.8" font-size="5.5" text-anchor="middle" fill="#000000" stroke="#000000" stroke-width="0.12">60</text>
<line x1="501.6" y1="296.4" x2="501.6" y2="299.2" stroke="#000000" stroke-width="0.9" stroke-linecap="butt"/>
<text x="501.6" y="305.8" font-size="5.5" text-anchor="middle" fill="#000000" stroke="#000000" stroke-width="0.12">80</text>
<text x="479.8" y="315.2" font-size="6" text-anchor="middle" fill="#000000" stroke="#000000" stroke-width="0.12">Time (days)</text>
<text x="436.6" y="258.5" font-size="6.2" text-anchor="middle" stroke="#000" stroke-width="0.12" transform="rotate(-90 436.6 258.5)">Volume of Tumor (mm<tspan font-size="3.84" dy="-2.36">3</tspan><tspan dy="2.36">)</tspan></text>
<text x="482" y="213.6" font-size="6" text-anchor="middle" fill="#000000" stroke="#000000" stroke-width="0.12" font-weight="bold">Anti-PD1+LC427</text>
<polyline points="461.64,295.35 464.89,292.28 467.6,282.33 469.41,269.67 470.68,257.02 471.76,240.74" fill="none" stroke="#2424F5" stroke-width="0.95" stroke-linejoin="round" stroke-linecap="round"/>
<polyline points="461.64,294.99 465.25,291.37 468.15,279.62 469.95,266.06 471.22,253.4 471.58,253.4" fill="none" stroke="#2424F5" stroke-width="0.95" stroke-linejoin="round" stroke-linecap="round"/>
<polyline points="461.27,294.63 463.99,293.54 466.7,292.82 468.51,294.09 470.32,295.35 473.93,296.08" fill="none" stroke="#2424F5" stroke-width="0.95" stroke-linejoin="round" stroke-linecap="round"/>
<polyline points="462.18,294.63 465.8,293.18 468.15,293.54 470.32,294.99" fill="none" stroke="#2424F5" stroke-width="0.95" stroke-linejoin="round" stroke-linecap="round"/>
<polyline points="461.27,296.08 490.21,296.08" fill="none" stroke="#2424F5" stroke-width="0.95" stroke-linejoin="round" stroke-linecap="round"/>
<polyline points="461.64,295.71 464.53,293.18 467.06,287.76 468.87,276.91 470.32,264.25" fill="none" stroke="#2424F5" stroke-width="0.95" stroke-linejoin="round" stroke-linecap="round"/>
<line x1="216.8" y1="399.3" x2="216.8" y2="473.1" stroke="#000000" stroke-width="1" stroke-linecap="butt"/>
<line x1="216.3" y1="472.6" x2="260.43" y2="472.6" stroke="#000000" stroke-width="1" stroke-linecap="butt"/>
<line x1="212.8" y1="472.6" x2="216.8" y2="472.6" stroke="#000000" stroke-width="0.9" stroke-linecap="butt"/>
<text x="212.4" y="474.75" font-size="5.95" text-anchor="end" fill="#000000" stroke="#000000" stroke-width="0.12">0</text>
<line x1="212.8" y1="454.35" x2="216.8" y2="454.35" stroke="#000000" stroke-width="0.9" stroke-linecap="butt"/>
<text x="212.4" y="456.5" font-size="5.95" text-anchor="end" fill="#000000" stroke="#000000" stroke-width="0.12">500</text>
<line x1="212.8" y1="436.1" x2="216.8" y2="436.1" stroke="#000000" stroke-width="0.9" stroke-linecap="butt"/>
<text x="212.4" y="438.25" font-size="5.95" text-anchor="end" fill="#000000" stroke="#000000" stroke-width="0.12">1000</text>
<line x1="212.8" y1="417.85" x2="216.8" y2="417.85" stroke="#000000" stroke-width="0.9" stroke-linecap="butt"/>
<text x="212.4" y="420" font-size="5.95" text-anchor="end" fill="#000000" stroke="#000000" stroke-width="0.12">1500</text>
<line x1="212.8" y1="399.6" x2="216.8" y2="399.6" stroke="#000000" stroke-width="0.9" stroke-linecap="butt"/>
<text x="212.4" y="401.75" font-size="5.95" text-anchor="end" fill="#000000" stroke="#000000" stroke-width="0.12">2000</text>
<line x1="216.8" y1="472.6" x2="216.8" y2="475.4" stroke="#000000" stroke-width="0.9" stroke-linecap="butt"/>
<text x="216.8" y="482" font-size="5.5" text-anchor="middle" fill="#000000" stroke="#000000" stroke-width="0.12">0</text>
<line x1="225.53" y1="472.6" x2="225.53" y2="475.4" stroke="#000000" stroke-width="0.9" stroke-linecap="butt"/>
<text x="225.53" y="482" font-size="5.5" text-anchor="middle" fill="#000000" stroke="#000000" stroke-width="0.12">5</text>
<line x1="234.25" y1="472.6" x2="234.25" y2="475.4" stroke="#000000" stroke-width="0.9" stroke-linecap="butt"/>
<text x="234.25" y="482" font-size="5.5" text-anchor="middle" fill="#000000" stroke="#000000" stroke-width="0.12">10</text>
<line x1="242.98" y1="472.6" x2="242.98" y2="475.4" stroke="#000000" stroke-width="0.9" stroke-linecap="butt"/>
<text x="242.98" y="482" font-size="5.5" text-anchor="middle" fill="#000000" stroke="#000000" stroke-width="0.12">15</text>
<line x1="251.7" y1="472.6" x2="251.7" y2="475.4" stroke="#000000" stroke-width="0.9" stroke-linecap="butt"/>
<text x="251.7" y="482" font-size="5.5" text-anchor="middle" fill="#000000" stroke="#000000" stroke-width="0.12">20</text>
<line x1="260.43" y1="472.6" x2="260.43" y2="475.4" stroke="#000000" stroke-width="0.9" stroke-linecap="butt"/>
<text x="260.43" y="482" font-size="5.5" text-anchor="middle" fill="#000000" stroke="#000000" stroke-width="0.12">25</text>
<text x="239" y="491.3" font-size="6" text-anchor="middle" fill="#000000" stroke="#000000" stroke-width="0.12">Time (days)</text>
<text x="196.2" y="435" font-size="6.2" text-anchor="middle" stroke="#000" stroke-width="0.12" transform="rotate(-90 196.2 435)">Volume of Tumor (mm<tspan font-size="3.84" dy="-2.36">3</tspan><tspan dy="2.36">)</tspan></text>
<text x="238.6" y="390" font-size="6.6" text-anchor="middle" fill="#000000" stroke="#000000" stroke-width="0.12" font-weight="bold">Ctrl</text>
<polyline points="228.51,471.37 233.93,464.14 239.36,442.44 243.88,427.97 249.3,417.12 254.73,407.18" fill="none" stroke="#000000" stroke-width="0.95" stroke-linejoin="round" stroke-linecap="round"/>
<polyline points="228.51,471.74 233.93,465.95 239.36,451.48 243.88,435.21 249.3,427.07 254.73,418.93" fill="none" stroke="#000000" stroke-width="0.95" stroke-linejoin="round" stroke-linecap="round"/>
<polyline points="228.51,471.92 233.93,467.76 239.36,458.72 243.88,444.25 249.3,431.59 254.73,419.84" fill="none" stroke="#000000" stroke-width="0.95" stroke-linejoin="round" stroke-linecap="round"/>
<polyline points="228.51,472.1 233.93,468.66 239.36,461.43 243.88,451.48 249.3,437.02 254.73,433.4" fill="none" stroke="#000000" stroke-width="0.95" stroke-linejoin="round" stroke-linecap="round"/>
<polyline points="228.51,472.28 233.93,469.57 239.36,465.95 243.88,462.33 249.3,440.63 254.73,433.4" fill="none" stroke="#000000" stroke-width="0.95" stroke-linejoin="round" stroke-linecap="round"/>
<polyline points="228.51,471.92 233.93,466.85 239.36,455.1 243.88,428.88 249.3,438.82 254.73,420.74" fill="none" stroke="#000000" stroke-width="0.95" stroke-linejoin="round" stroke-linecap="round"/>
<polyline points="228.51,471.74 233.93,465.05 239.36,446.06 243.88,440.63 249.3,427.07 254.73,409.89" fill="none" stroke="#000000" stroke-width="0.95" stroke-linejoin="round" stroke-linecap="round"/>
<polyline points="228.87,472.28 233.93,469.57 239.36,466.85 243.88,464.14 249.3,444.25 252.92,435.21" fill="none" stroke="#000000" stroke-width="0.95" stroke-linejoin="round" stroke-linecap="round"/>
<polyline points="228.51,472.1 233.93,468.12 239.36,456.91 243.88,437.02 249.3,433.4 254.73,426.17" fill="none" stroke="#000000" stroke-width="0.95" stroke-linejoin="round" stroke-linecap="round"/>
<polyline points="228.51,471.74 233.93,467.4 239.36,449.67 243.88,455.1 249.3,435.21" fill="none" stroke="#000000" stroke-width="0.95" stroke-linejoin="round" stroke-linecap="round"/>
<line x1="297.5" y1="399.3" x2="297.5" y2="473.1" stroke="#000000" stroke-width="1" stroke-linecap="butt"/>
<line x1="297" y1="472.6" x2="341.12" y2="472.6" stroke="#000000" stroke-width="1" stroke-linecap="butt"/>
<line x1="293.5" y1="472.6" x2="297.5" y2="472.6" stroke="#000000" stroke-width="0.9" stroke-linecap="butt"/>
<text x="293.1" y="474.75" font-size="5.95" text-anchor="end" fill="#000000" stroke="#000000" stroke-width="0.12">0</text>
<line x1="293.5" y1="454.35" x2="297.5" y2="454.35" stroke="#000000" stroke-width="0.9" stroke-linecap="butt"/>
<text x="293.1" y="456.5" font-size="5.95" text-anchor="end" fill="#000000" stroke="#000000" stroke-width="0.12">500</text>
<line x1="293.5" y1="436.1" x2="297.5" y2="436.1" stroke="#000000" stroke-width="0.9" stroke-linecap="butt"/>
<text x="293.1" y="438.25" font-size="5.95" text-anchor="end" fill="#000000" stroke="#000000" stroke-width="0.12">1000</text>
<line x1="293.5" y1="417.85" x2="297.5" y2="417.85" stroke="#000000" stroke-width="0.9" stroke-linecap="butt"/>
<text x="293.1" y="420" font-size="5.95" text-anchor="end" fill="#000000" stroke="#000000" stroke-width="0.12">1500</text>
<line x1="293.5" y1="399.6" x2="297.5" y2="399.6" stroke="#000000" stroke-width="0.9" stroke-linecap="butt"/>
<text x="293.1" y="401.75" font-size="5.95" text-anchor="end" fill="#000000" stroke="#000000" stroke-width="0.12">2000</text>
<line x1="297.5" y1="472.6" x2="297.5" y2="475.4" stroke="#000000" stroke-width="0.9" stroke-linecap="butt"/>
<text x="297.5" y="482" font-size="5.5" text-anchor="middle" fill="#000000" stroke="#000000" stroke-width="0.12">0</text>
<line x1="306.23" y1="472.6" x2="306.23" y2="475.4" stroke="#000000" stroke-width="0.9" stroke-linecap="butt"/>
<text x="306.23" y="482" font-size="5.5" text-anchor="middle" fill="#000000" stroke="#000000" stroke-width="0.12">5</text>
<line x1="314.95" y1="472.6" x2="314.95" y2="475.4" stroke="#000000" stroke-width="0.9" stroke-linecap="butt"/>
<text x="314.95" y="482" font-size="5.5" text-anchor="middle" fill="#000000" stroke="#000000" stroke-width="0.12">10</text>
<line x1="323.68" y1="472.6" x2="323.68" y2="475.4" stroke="#000000" stroke-width="0.9" stroke-linecap="butt"/>
<text x="323.68" y="482" font-size="5.5" text-anchor="middle" fill="#000000" stroke="#000000" stroke-width="0.12">15</text>
<line x1="332.4" y1="472.6" x2="332.4" y2="475.4" stroke="#000000" stroke-width="0.9" stroke-linecap="butt"/>
<text x="332.4" y="482" font-size="5.5" text-anchor="middle" fill="#000000" stroke="#000000" stroke-width="0.12">20</text>
<line x1="341.12" y1="472.6" x2="341.12" y2="475.4" stroke="#000000" stroke-width="0.9" stroke-linecap="butt"/>
<text x="341.12" y="482" font-size="5.5" text-anchor="middle" fill="#000000" stroke="#000000" stroke-width="0.12">25</text>
<text x="319.8" y="491.3" font-size="6" text-anchor="middle" fill="#000000" stroke="#000000" stroke-width="0.12">Time (days)</text>
<text x="276.9" y="435" font-size="6.2" text-anchor="middle" stroke="#000" stroke-width="0.12" transform="rotate(-90 276.9 435)">Volume of Tumor (mm<tspan font-size="3.84" dy="-2.36">3</tspan><tspan dy="2.36">)</tspan></text>
<text x="318.7" y="390" font-size="6" text-anchor="middle" fill="#000000" stroke="#000000" stroke-width="0.12" font-weight="bold">Anti-PD1</text>
<polyline points="309.05,472.28 314.29,464.14 319.54,443.35 322.97,443.35 324.78,439.73 330.21,407.18" fill="none" stroke="#F046F0" stroke-width="0.95" stroke-linejoin="round" stroke-linecap="round"/>
<polyline points="309.05,472.28 314.29,465.05 319.54,449.67 324.78,437.92 330.21,418.03" fill="none" stroke="#F046F0" stroke-width="0.95" stroke-linejoin="round" stroke-linecap="round"/>
<polyline points="309.05,472.82 314.29,465.95 319.54,453.29 324.78,446.06 330.21,452.39 335.45,420.74" fill="none" stroke="#F046F0" stroke-width="0.95" stroke-linejoin="round" stroke-linecap="round"/>
<polyline points="309.41,472.82 314.29,466.85 319.54,455.1 324.78,447.87 330.21,446.06" fill="none" stroke="#F046F0" stroke-width="0.95" stroke-linejoin="round" stroke-linecap="round"/>
<polyline points="309.41,472.82 314.29,467.76 319.54,458.72 324.78,450.58 330.21,449.67" fill="none" stroke="#F046F0" stroke-width="0.95" stroke-linejoin="round" stroke-linecap="round"/>
<polyline points="310.32,473.18 314.29,469.57 319.54,465.95 324.78,459.62 330.21,456.91" fill="none" stroke="#F046F0" stroke-width="0.95" stroke-linejoin="round" stroke-linecap="round"/>
<polyline points="312.12,473.18 319.54,470.47 324.78,469.57 330.21,469.57 335.45,468.66" fill="none" stroke="#F046F0" stroke-width="0.95" stroke-linejoin="round" stroke-linecap="round"/>
<polyline points="309.05,472.28 314.29,465.59 319.54,447.87 324.78,442.44 330.21,426.17" fill="none" stroke="#F046F0" stroke-width="0.95" stroke-linejoin="round" stroke-linecap="round"/>
<polyline points="309.41,472.64 314.29,467.4 319.54,456.91 324.78,449.67" fill="none" stroke="#F046F0" stroke-width="0.95" stroke-linejoin="round" stroke-linecap="round"/>
<polyline points="309.05,472.46 314.29,464.5 319.54,446.06 324.78,444.25 330.21,447.87" fill="none" stroke="#F046F0" stroke-width="0.95" stroke-linejoin="round" stroke-linecap="round"/>
<polyline points="310.32,473 315.74,471.37 319.54,467.76 324.78,458.72" fill="none" stroke="#F046F0" stroke-width="0.95" stroke-linejoin="round" stroke-linecap="round"/>
<line x1="378" y1="399.3" x2="378" y2="473.1" stroke="#000000" stroke-width="1" stroke-linecap="butt"/>
<line x1="377.5" y1="472.6" x2="421" y2="472.6" stroke="#000000" stroke-width="1" stroke-linecap="butt"/>
<line x1="374" y1="472.6" x2="378" y2="472.6" stroke="#000000" stroke-width="0.9" stroke-linecap="butt"/>
<text x="373.6" y="474.75" font-size="5.95" text-anchor="end" fill="#000000" stroke="#000000" stroke-width="0.12">0</text>
<line x1="374" y1="454.35" x2="378" y2="454.35" stroke="#000000" stroke-width="0.9" stroke-linecap="butt"/>
<text x="373.6" y="456.5" font-size="5.95" text-anchor="end" fill="#000000" stroke="#000000" stroke-width="0.12">500</text>
<line x1="374" y1="436.1" x2="378" y2="436.1" stroke="#000000" stroke-width="0.9" stroke-linecap="butt"/>
<text x="373.6" y="438.25" font-size="5.95" text-anchor="end" fill="#000000" stroke="#000000" stroke-width="0.12">1000</text>
<line x1="374" y1="417.85" x2="378" y2="417.85" stroke="#000000" stroke-width="0.9" stroke-linecap="butt"/>
<text x="373.6" y="420" font-size="5.95" text-anchor="end" fill="#000000" stroke="#000000" stroke-width="0.12">1500</text>
<line x1="374" y1="399.6" x2="378" y2="399.6" stroke="#000000" stroke-width="0.9" stroke-linecap="butt"/>
<text x="373.6" y="401.75" font-size="5.95" text-anchor="end" fill="#000000" stroke="#000000" stroke-width="0.12">2000</text>
<line x1="378" y1="472.6" x2="378" y2="475.4" stroke="#000000" stroke-width="0.9" stroke-linecap="butt"/>
<text x="378" y="482" font-size="5.5" text-anchor="middle" fill="#000000" stroke="#000000" stroke-width="0.12">0</text>
<line x1="386.6" y1="472.6" x2="386.6" y2="475.4" stroke="#000000" stroke-width="0.9" stroke-linecap="butt"/>
<text x="386.6" y="482" font-size="5.5" text-anchor="middle" fill="#000000" stroke="#000000" stroke-width="0.12">5</text>
<line x1="395.2" y1="472.6" x2="395.2" y2="475.4" stroke="#000000" stroke-width="0.9" stroke-linecap="butt"/>
<text x="395.2" y="482" font-size="5.5" text-anchor="middle" fill="#000000" stroke="#000000" stroke-width="0.12">10</text>
<line x1="403.8" y1="472.6" x2="403.8" y2="475.4" stroke="#000000" stroke-width="0.9" stroke-linecap="butt"/>
<text x="403.8" y="482" font-size="5.5" text-anchor="middle" fill="#000000" stroke="#000000" stroke-width="0.12">15</text>
<line x1="412.4" y1="472.6" x2="412.4" y2="475.4" stroke="#000000" stroke-width="0.9" stroke-linecap="butt"/>
<text x="412.4" y="482" font-size="5.5" text-anchor="middle" fill="#000000" stroke="#000000" stroke-width="0.12">20</text>
<line x1="421" y1="472.6" x2="421" y2="475.4" stroke="#000000" stroke-width="0.9" stroke-linecap="butt"/>
<text x="421" y="482" font-size="5.5" text-anchor="middle" fill="#000000" stroke="#000000" stroke-width="0.12">25</text>
<text x="399.8" y="491.3" font-size="6" text-anchor="middle" fill="#000000" stroke="#000000" stroke-width="0.12">Time (days)</text>
<text x="357.4" y="435" font-size="6.2" text-anchor="middle" stroke="#000" stroke-width="0.12" transform="rotate(-90 357.4 435)">Volume of Tumor (mm<tspan font-size="3.84" dy="-2.36">3</tspan><tspan dy="2.36">)</tspan></text>
<text x="400.2" y="390" font-size="6" text-anchor="middle" fill="#000000" stroke="#000000" stroke-width="0.12" font-weight="bold">LC427</text>
<polyline points="389.69,472.63 394.69,461.78 399.7,443.41 404.71,430.89 410.55,416.37" fill="none" stroke="#FF1A1A" stroke-width="0.95" stroke-linejoin="round" stroke-linecap="round"/>
<polyline points="389.69,472.63 395.53,460.94 400.54,441.74 405.55,431.73 406.71,429.22" fill="none" stroke="#FF1A1A" stroke-width="0.95" stroke-linejoin="round" stroke-linecap="round"/>
<polyline points="390.02,472.63 396.36,463.45 401.37,453.43 407.22,446.75 411.39,436.74 414.73,424.22 416.06,416.37" fill="none" stroke="#FF1A1A" stroke-width="0.95" stroke-linejoin="round" stroke-linecap="round"/>
<polyline points="390.52,472.63 397.2,463.45 403.04,455.1 408.88,448.42 413.89,435.07 415.56,425.88" fill="none" stroke="#FF1A1A" stroke-width="0.95" stroke-linejoin="round" stroke-linecap="round"/>
<polyline points="390.52,472.63 396.36,465.12 401.37,456.77 405.55,448.42" fill="none" stroke="#FF1A1A" stroke-width="0.95" stroke-linejoin="round" stroke-linecap="round"/>
<polyline points="391.02,472.63 398.03,465.12 403.88,459.27 408.88,454.27" fill="none" stroke="#FF1A1A" stroke-width="0.95" stroke-linejoin="round" stroke-linecap="round"/>
<polyline points="391.36,472.63 398.87,466.79 404.71,461.78 407.22,462.61 411.39,461.78 416.06,455.93" fill="none" stroke="#FF1A1A" stroke-width="0.95" stroke-linejoin="round" stroke-linecap="round"/>
<polyline points="391.69,472.63 399.7,468.46 406.38,465.12 411.39,463.45 416.06,457.6" fill="none" stroke="#FF1A1A" stroke-width="0.95" stroke-linejoin="round" stroke-linecap="round"/>
<polyline points="392.19,472.63 401.37,469.29 409.72,467.62 413.89,463.45" fill="none" stroke="#FF1A1A" stroke-width="0.95" stroke-linejoin="round" stroke-linecap="round"/>
<polyline points="391.36,472.63 398.03,466.79 403.04,463.45 408.88,459.27" fill="none" stroke="#FF1A1A" stroke-width="0.95" stroke-linejoin="round" stroke-linecap="round"/>
<polyline points="390.52,472.63 395.53,465.12 399.7,453.43 404.71,445.08 408.05,440.08" fill="none" stroke="#FF1A1A" stroke-width="0.95" stroke-linejoin="round" stroke-linecap="round"/>
<line x1="457.2" y1="399.3" x2="457.2" y2="473.1" stroke="#000000" stroke-width="1" stroke-linecap="butt"/>
<line x1="456.7" y1="472.6" x2="501.6" y2="472.6" stroke="#000000" stroke-width="1" stroke-linecap="butt"/>
<line x1="453.2" y1="472.6" x2="457.2" y2="472.6" stroke="#000000" stroke-width="0.9" stroke-linecap="butt"/>
<text x="452.8" y="474.75" font-size="5.95" text-anchor="end" fill="#000000" stroke="#000000" stroke-width="0.12">0</text>
<line x1="453.2" y1="454.35" x2="457.2" y2="454.35" stroke="#000000" stroke-width="0.9" stroke-linecap="butt"/>
<text x="452.8" y="456.5" font-size="5.95" text-anchor="end" fill="#000000" stroke="#000000" stroke-width="0.12">500</text>
<line x1="453.2" y1="436.1" x2="457.2" y2="436.1" stroke="#000000" stroke-width="0.9" stroke-linecap="butt"/>
<text x="452.8" y="438.25" font-size="5.95" text-anchor="end" fill="#000000" stroke="#000000" stroke-width="0.12">1000</text>
<line x1="453.2" y1="417.85" x2="457.2" y2="417.85" stroke="#000000" stroke-width="0.9" stroke-linecap="butt"/>
<text x="452.8" y="420" font-size="5.95" text-anchor="end" fill="#000000" stroke="#000000" stroke-width="0.12">1500</text>
<line x1="453.2" y1="399.6" x2="457.2" y2="399.6" stroke="#000000" stroke-width="0.9" stroke-linecap="butt"/>
<text x="452.8" y="401.75" font-size="5.95" text-anchor="end" fill="#000000" stroke="#000000" stroke-width="0.12">2000</text>
<line x1="457.2" y1="472.6" x2="457.2" y2="475.4" stroke="#000000" stroke-width="0.9" stroke-linecap="butt"/>
<text x="457.2" y="482" font-size="5.5" text-anchor="middle" fill="#000000" stroke="#000000" stroke-width="0.12">0</text>
<line x1="468.3" y1="472.6" x2="468.3" y2="475.4" stroke="#000000" stroke-width="0.9" stroke-linecap="butt"/>
<text x="468.3" y="482" font-size="5.5" text-anchor="middle" fill="#000000" stroke="#000000" stroke-width="0.12">20</text>
<line x1="479.4" y1="472.6" x2="479.4" y2="475.4" stroke="#000000" stroke-width="0.9" stroke-linecap="butt"/>
<text x="479.4" y="482" font-size="5.5" text-anchor="middle" fill="#000000" stroke="#000000" stroke-width="0.12">40</text>
<line x1="490.5" y1="472.6" x2="490.5" y2="475.4" stroke="#000000" stroke-width="0.9" stroke-linecap="butt"/>
<text x="490.5" y="482" font-size="5.5" text-anchor="middle" fill="#000000" stroke="#000000" stroke-width="0.12">60</text>
<line x1="501.6" y1="472.6" x2="501.6" y2="475.4" stroke="#000000" stroke-width="0.9" stroke-linecap="butt"/>
<text x="501.6" y="482" font-size="5.5" text-anchor="middle" fill="#000000" stroke="#000000" stroke-width="0.12">80</text>
<text x="479.8" y="491.3" font-size="6" text-anchor="middle" fill="#000000" stroke="#000000" stroke-width="0.12">Time (days)</text>
<text x="436.6" y="435" font-size="6.2" text-anchor="middle" stroke="#000" stroke-width="0.12" transform="rotate(-90 436.6 435)">Volume of Tumor (mm<tspan font-size="3.84" dy="-2.36">3</tspan><tspan dy="2.36">)</tspan></text>
<text x="479.5" y="390" font-size="6" text-anchor="middle" fill="#000000" stroke="#000000" stroke-width="0.12" font-weight="bold">Anti-PD1+LC427</text>
<polyline points="460.91,472.64 490.21,472.64" fill="none" stroke="#2424F5" stroke-width="0.95" stroke-linejoin="round" stroke-linecap="round"/>
<polyline points="460.91,471.37 462.54,465.95 464.17,455.1 465.8,444.25 467.42,426.17 469.05,399.95" fill="none" stroke="#2424F5" stroke-width="0.95" stroke-linejoin="round" stroke-linecap="round"/>
<polyline points="460.91,471.74 462.54,466.85 464.17,451.48 465.8,440.63 467.42,426.17 468.15,432.5 469.41,433.4" fill="none" stroke="#2424F5" stroke-width="0.95" stroke-linejoin="round" stroke-linecap="round"/>
<polyline points="460.91,472.28 462.54,469.57 464.17,462.33 465.8,450.58 466.7,444.25" fill="none" stroke="#2424F5" stroke-width="0.95" stroke-linejoin="round" stroke-linecap="round"/>
<polyline points="461.27,472.28 463.08,467.76 464.89,456.91 466.34,446.06 467.78,433.4" fill="none" stroke="#2424F5" stroke-width="0.95" stroke-linejoin="round" stroke-linecap="round"/>
<polyline points="464.17,472.28 465.8,469.57 467.42,462.33 469.05,454.2" fill="none" stroke="#2424F5" stroke-width="0.95" stroke-linejoin="round" stroke-linecap="round"/>
<polyline points="464.89,472.28 467.42,469.57 470.68,465.05 473.93,460.52 475.74,457.81 478.82,438.82 480.44,431.59 481.71,431.23" fill="none" stroke="#2424F5" stroke-width="0.95" stroke-linejoin="round" stroke-linecap="round"/>
<polyline points="465.8,472.28 469.05,469.57 472.31,464.14 475.56,458.72 477.19,449.67 479.36,436.11 480.44,434.3" fill="none" stroke="#2424F5" stroke-width="0.95" stroke-linejoin="round" stroke-linecap="round"/>
<polyline points="466.7,472.28 470.32,468.66 473.93,462.33 476.65,455.1 478.82,442.44" fill="none" stroke="#2424F5" stroke-width="0.95" stroke-linejoin="round" stroke-linecap="round"/>
<polyline points="460.91,472.28 462.54,470.47 464.17,467.76 465.8,469.57 467.42,472.28" fill="none" stroke="#2424F5" stroke-width="0.95" stroke-linejoin="round" stroke-linecap="round"/>
<line x1="543.2" y1="33.6" x2="543.2" y2="125.7" stroke="#000000" stroke-width="1.2" stroke-linecap="butt"/>
<line x1="542.7" y1="125.2" x2="680.5" y2="125.2" stroke="#000000" stroke-width="1.2" stroke-linecap="butt"/>
<line x1="539.2" y1="125.2" x2="543.2" y2="125.2" stroke="#000000" stroke-width="1" stroke-linecap="butt"/>
<text x="537.8" y="127.3" font-size="5.9" text-anchor="end" fill="#000000" stroke="#000000" stroke-width="0.12">0</text>
<line x1="539.2" y1="108.6" x2="543.2" y2="108.6" stroke="#000000" stroke-width="1" stroke-linecap="butt"/>
<text x="537.8" y="110.7" font-size="5.9" text-anchor="end" fill="#000000" stroke="#000000" stroke-width="0.12">20</text>
<line x1="539.2" y1="92" x2="543.2" y2="92" stroke="#000000" stroke-width="1" stroke-linecap="butt"/>
<text x="537.8" y="94.1" font-size="5.9" text-anchor="end" fill="#000000" stroke="#000000" stroke-width="0.12">40</text>
<line x1="539.2" y1="75.4" x2="543.2" y2="75.4" stroke="#000000" stroke-width="1" stroke-linecap="butt"/>
<text x="537.8" y="77.5" font-size="5.9" text-anchor="end" fill="#000000" stroke="#000000" stroke-width="0.12">60</text>
<line x1="539.2" y1="58.8" x2="543.2" y2="58.8" stroke="#000000" stroke-width="1" stroke-linecap="butt"/>
<text x="537.8" y="60.9" font-size="5.9" text-anchor="end" fill="#000000" stroke="#000000" stroke-width="0.12">80</text>
<line x1="539.2" y1="42.2" x2="543.2" y2="42.2" stroke="#000000" stroke-width="1" stroke-linecap="butt"/>
<text x="537.8" y="44.3" font-size="5.9" text-anchor="end" fill="#000000" stroke="#000000" stroke-width="0.12">100</text>
<line x1="543.2" y1="125.2" x2="543.2" y2="128.9" stroke="#000000" stroke-width="1" stroke-linecap="butt"/>
<text x="543.2" y="136.2" font-size="6.4" text-anchor="middle" fill="#000000" stroke="#000000" stroke-width="0.12">20</text>
<line x1="589" y1="125.2" x2="589" y2="128.9" stroke="#000000" stroke-width="1" stroke-linecap="butt"/>
<text x="589" y="136.2" font-size="6.4" text-anchor="middle" fill="#000000" stroke="#000000" stroke-width="0.12">40</text>
<line x1="634.8" y1="125.2" x2="634.8" y2="128.9" stroke="#000000" stroke-width="1" stroke-linecap="butt"/>
<text x="634.8" y="136.2" font-size="6.4" text-anchor="middle" fill="#000000" stroke="#000000" stroke-width="0.12">60</text>
<line x1="680.6" y1="125.2" x2="680.6" y2="128.9" stroke="#000000" stroke-width="1" stroke-linecap="butt"/>
<text x="680.6" y="136.2" font-size="6.4" text-anchor="middle" fill="#000000" stroke="#000000" stroke-width="0.12">80</text>
<text x="611.4" y="145.6" font-size="6.25" text-anchor="middle" fill="#000000" stroke="#000000" stroke-width="0.12">Time (days)</text>
<text x="523.3" y="79" font-size="6.65" text-anchor="middle" fill="#000000" stroke="#000000" stroke-width="0.12" transform="rotate(-90 523.3 79)">Percent survival (%)</text>
<text x="611.4" y="23" font-size="7.4" text-anchor="middle" fill="#000000" stroke="#000000" stroke-width="0.12" font-weight="bold">MC38</text>
<polyline points="543.2,42.2 609.4,42.2 609.4,50.5 636.8,50.5 636.8,58.8 643.6,58.8" fill="none" stroke="#2424F5" stroke-width="1.1" stroke-linejoin="miter" stroke-linecap="round"/>
<polyline points="543.2,42.2 556.5,42.2 556.5,50.5 558.1,50.5 558.1,58.8 595.7,58.8 595.7,67.1 602.2,67.1 602.2,75.4 643.6,75.4" fill="none" stroke="#F046F0" stroke-width="1.1" stroke-linejoin="miter" stroke-linecap="round"/>
<polyline points="543.2,42.2 565.7,42.2 565.7,50.5 570.5,50.5 570.5,58.8 586.5,58.8 586.5,67.1 595.7,67.1 595.7,83.7 602.2,83.7 602.2,92 643.6,92" fill="none" stroke="#FF1A1A" stroke-width="1.1" stroke-linejoin="miter" stroke-linecap="round"/>
<polyline points="543.2,42.2 547.2,42.2 547.2,50.5 549.5,50.5 549.5,58.8 554.3,58.8 554.3,75.4 556.5,75.4 556.5,92 558.6,92 558.6,100.3 561,100.3 561,116.9 562.9,116.9 562.9,125.2" fill="none" stroke="#000000" stroke-width="1.1" stroke-linejoin="miter" stroke-linecap="round"/>
<line x1="572.2" y1="96.3" x2="584.3" y2="96.3" stroke="#000000" stroke-width="1" stroke-linecap="butt"/>
<line x1="578.25" y1="94.5" x2="578.25" y2="96.3" stroke="#000000" stroke-width="1" stroke-linecap="butt"/>
<text x="587.6" y="98.5" font-size="6.4" text-anchor="start" fill="#000000" stroke="#000000" stroke-width="0.12">Ctrl</text>
<line x1="572.2" y1="104.4" x2="584.3" y2="104.4" stroke="#F046F0" stroke-width="1" stroke-linecap="butt"/>
<line x1="578.25" y1="102.6" x2="578.25" y2="104.4" stroke="#F046F0" stroke-width="1" stroke-linecap="butt"/>
<text x="587.6" y="106.6" font-size="6.4" text-anchor="start" fill="#000000" stroke="#000000" stroke-width="0.12">Anti-PD1</text>
<line x1="572.2" y1="112.8" x2="584.3" y2="112.8" stroke="#FF1A1A" stroke-width="1" stroke-linecap="butt"/>
<line x1="578.25" y1="111" x2="578.25" y2="112.8" stroke="#FF1A1A" stroke-width="1" stroke-linecap="butt"/>
<text x="587.6" y="115" font-size="6.4" text-anchor="start" fill="#000000" stroke="#000000" stroke-width="0.12">LC427</text>
<line x1="572.2" y1="120.2" x2="584.3" y2="120.2" stroke="#2424F5" stroke-width="1" stroke-linecap="butt"/>
<line x1="578.25" y1="118.4" x2="578.25" y2="120.2" stroke="#2424F5" stroke-width="1" stroke-linecap="butt"/>
<text x="587.6" y="122.4" font-size="6.4" text-anchor="start" fill="#000000" stroke="#000000" stroke-width="0.12">Anti-PD1+LC427</text>
<text x="606.2" y="62.9" font-size="6.35" text-anchor="start" fill="#000000" stroke="#000000" stroke-width="0.12">Ctrl 0/10</text>
<text x="606.2" y="70.5" font-size="6.35" text-anchor="start" fill="#F046F0" stroke="#F046F0" stroke-width="0.12">Anti-PD1 6/10</text>
<text x="606.2" y="82.7" font-size="6.35" text-anchor="start" fill="#FF1A1A" stroke="#FF1A1A" stroke-width="0.12">LC427 4/10</text>
<text x="606.2" y="90.2" font-size="6.35" text-anchor="start" fill="#2424F5" stroke="#2424F5" stroke-width="0.12">Anti-PD1+LC427&#160; 8/10</text>
<line x1="613.6" y1="94.3" x2="613.6" y2="108" stroke="#000000" stroke-width="1" stroke-linecap="butt"/>
<text x="622.05" y="102" font-size="6.1" text-anchor="middle" stroke="#000" stroke-width="0.12" transform="rotate(-90 622.05 102)"><tspan font-style="italic">p</tspan>&lt;0.001</text>
<line x1="626" y1="94.3" x2="626" y2="115.4" stroke="#000000" stroke-width="1" stroke-linecap="butt"/>
<text x="634.15" y="107" font-size="6.1" text-anchor="middle" stroke="#000" stroke-width="0.12" transform="rotate(-90 634.15 107)"><tspan font-style="italic">p</tspan>&lt;0.001</text>
<line x1="637.8" y1="109.8" x2="637.8" y2="123.5" stroke="#000000" stroke-width="1" stroke-linecap="butt"/>
<text x="646.85" y="116.3" font-size="6.1" text-anchor="middle" stroke="#000" stroke-width="0.12" transform="rotate(-90 646.85 116.3)"><tspan font-style="italic">p</tspan>=0.0356</text>
<line x1="650.6" y1="102.4" x2="650.6" y2="123.5" stroke="#000000" stroke-width="1" stroke-linecap="butt"/>
<text x="-97.85" y="-100" font-size="6.1" text-anchor="middle" stroke="#000" stroke-width="0.12" transform="rotate(-90 -97.85 -100)"><tspan font-style="italic">p</tspan></text>
<text x="652.7" y="114.5" font-size="6.2" stroke="#000" stroke-width="0.12"><tspan font-style="italic">p</tspan>=0.2487</text>
<line x1="543.8" y1="205.7" x2="543.8" y2="297.5" stroke="#000000" stroke-width="1.2" stroke-linecap="butt"/>
<line x1="543.3" y1="297" x2="680.5" y2="297" stroke="#000000" stroke-width="1.2" stroke-linecap="butt"/>
<line x1="539.8" y1="297" x2="543.8" y2="297" stroke="#000000" stroke-width="1" stroke-linecap="butt"/>
<text x="538.4" y="299.1" font-size="5.9" text-anchor="end" fill="#000000" stroke="#000000" stroke-width="0.12">0</text>
<line x1="539.8" y1="280.4" x2="543.8" y2="280.4" stroke="#000000" stroke-width="1" stroke-linecap="butt"/>
<text x="538.4" y="282.5" font-size="5.9" text-anchor="end" fill="#000000" stroke="#000000" stroke-width="0.12">20</text>
<line x1="539.8" y1="263.8" x2="543.8" y2="263.8" stroke="#000000" stroke-width="1" stroke-linecap="butt"/>
<text x="538.4" y="265.9" font-size="5.9" text-anchor="end" fill="#000000" stroke="#000000" stroke-width="0.12">40</text>
<line x1="539.8" y1="247.2" x2="543.8" y2="247.2" stroke="#000000" stroke-width="1" stroke-linecap="butt"/>
<text x="538.4" y="249.3" font-size="5.9" text-anchor="end" fill="#000000" stroke="#000000" stroke-width="0.12">60</text>
<line x1="539.8" y1="230.6" x2="543.8" y2="230.6" stroke="#000000" stroke-width="1" stroke-linecap="butt"/>
<text x="538.4" y="232.7" font-size="5.9" text-anchor="end" fill="#000000" stroke="#000000" stroke-width="0.12">80</text>
<line x1="539.8" y1="214" x2="543.8" y2="214" stroke="#000000" stroke-width="1" stroke-linecap="butt"/>
<text x="538.4" y="216.1" font-size="5.9" text-anchor="end" fill="#000000" stroke="#000000" stroke-width="0.12">100</text>
<line x1="543.8" y1="297" x2="543.8" y2="300.7" stroke="#000000" stroke-width="1" stroke-linecap="butt"/>
<text x="543.8" y="308" font-size="6.4" text-anchor="middle" fill="#000000" stroke="#000000" stroke-width="0.12">20</text>
<line x1="589.3" y1="297" x2="589.3" y2="300.7" stroke="#000000" stroke-width="1" stroke-linecap="butt"/>
<text x="589.3" y="308" font-size="6.4" text-anchor="middle" fill="#000000" stroke="#000000" stroke-width="0.12">40</text>
<line x1="634.8" y1="297" x2="634.8" y2="300.7" stroke="#000000" stroke-width="1" stroke-linecap="butt"/>
<text x="634.8" y="308" font-size="6.4" text-anchor="middle" fill="#000000" stroke="#000000" stroke-width="0.12">60</text>
<line x1="680.3" y1="297" x2="680.3" y2="300.7" stroke="#000000" stroke-width="1" stroke-linecap="butt"/>
<text x="680.3" y="308" font-size="6.4" text-anchor="middle" fill="#000000" stroke="#000000" stroke-width="0.12">80</text>
<text x="611.4" y="317.5" font-size="6.25" text-anchor="middle" fill="#000000" stroke="#000000" stroke-width="0.12">Time (days)</text>
<text x="524.8" y="250.7" font-size="7.1" text-anchor="middle" fill="#000000" stroke="#000000" stroke-width="0.12" transform="rotate(-90 524.8 250.7)">Percent survival (%)</text>
<text x="611.4" y="194.5" font-size="7.4" text-anchor="middle" fill="#000000" stroke="#000000" stroke-width="0.12" font-weight="bold">CT26</text>
<polyline points="543.8,214 556.5,214 556.5,222.3 559.1,222.3 559.1,230.6 634.6,230.6" fill="none" stroke="#2424F5" stroke-width="1.1" stroke-linejoin="miter" stroke-linecap="round"/>
<polyline points="543.8,214 552.5,214 552.5,222.3 554.3,222.3 554.3,230.6 555.8,230.6 555.8,247.2 556.9,247.2 556.9,263.8 570,263.8 570,280.4 573.3,280.4 573.3,297" fill="none" stroke="#F046F0" stroke-width="1.1" stroke-linejoin="miter" stroke-linecap="round"/>
<polyline points="543.8,214 554.7,214 554.7,222.3 556.9,222.3 556.9,230.6 557.6,230.6 557.6,255.5 559.1,255.5 559.1,263.8 575.5,263.8 575.5,272.1 582.1,272.1 582.1,280.4 634.6,280.4" fill="none" stroke="#FF1A1A" stroke-width="1.1" stroke-linejoin="miter" stroke-linecap="round"/>
<polyline points="543.8,214 547.7,214 547.7,222.3 550.3,222.3 550.3,230.6 552.5,230.6 552.5,247.2 554.7,247.2 554.7,255.5 556.9,255.5 556.9,263.8 559.5,263.8 559.5,272.1 561.7,272.1 561.7,280.4 563.5,280.4 563.5,297" fill="none" stroke="#000000" stroke-width="1.1" stroke-linejoin="miter" stroke-linecap="round"/>
<line x1="582.1" y1="241.6" x2="593" y2="241.6" stroke="#000000" stroke-width="1" stroke-linecap="butt"/>
<line x1="587.55" y1="239.8" x2="587.55" y2="241.6" stroke="#000000" stroke-width="1" stroke-linecap="butt"/>
<text x="597.4" y="243.8" font-size="6.4" text-anchor="start" fill="#000000" stroke="#000000" stroke-width="0.12">Ctrl</text>
<line x1="582.1" y1="251.5" x2="593" y2="251.5" stroke="#F046F0" stroke-width="1" stroke-linecap="butt"/>
<line x1="587.55" y1="249.7" x2="587.55" y2="251.5" stroke="#F046F0" stroke-width="1" stroke-linecap="butt"/>
<text x="597.4" y="253.7" font-size="6.4" text-anchor="start" fill="#000000" stroke="#000000" stroke-width="0.12">Anti-PD1</text>
<line x1="582.1" y1="259.6" x2="593" y2="259.6" stroke="#FF1A1A" stroke-width="1" stroke-linecap="butt"/>
<line x1="587.55" y1="257.8" x2="587.55" y2="259.6" stroke="#FF1A1A" stroke-width="1" stroke-linecap="butt"/>
<text x="597.4" y="261.8" font-size="6.4" text-anchor="start" fill="#000000" stroke="#000000" stroke-width="0.12">LC427</text>
<line x1="582.1" y1="269" x2="593" y2="269" stroke="#2424F5" stroke-width="1" stroke-linecap="butt"/>
<line x1="587.55" y1="267.2" x2="587.55" y2="269" stroke="#2424F5" stroke-width="1" stroke-linecap="butt"/>
<text x="597.4" y="271.2" font-size="6.4" text-anchor="start" fill="#000000" stroke="#000000" stroke-width="0.12">Anti-PD1+LC427</text>
<text x="560.8" y="219.7" font-size="6.35" text-anchor="start" fill="#000000" stroke="#000000" stroke-width="0.12">Ctrl 0/10</text>
<text x="560.8" y="226.7" font-size="6.35" text-anchor="start" fill="#F046F0" stroke="#F046F0" stroke-width="0.12">Anti-PD1 0/10</text>
<text x="603.3" y="219.7" font-size="6.35" text-anchor="start" fill="#FF1A1A" stroke="#FF1A1A" stroke-width="0.12">LC427 2/10</text>
<text x="603.3" y="226.7" font-size="6.35" text-anchor="start" fill="#2424F5" stroke="#2424F5" stroke-width="0.12">LC427+Anti-PD1 8/10</text>
<line x1="624.4" y1="238.8" x2="624.4" y2="254.3" stroke="#000000" stroke-width="1" stroke-linecap="butt"/>
<text x="632.65" y="247.2" font-size="6.1" text-anchor="middle" stroke="#000" stroke-width="0.12" transform="rotate(-90 632.65 247.2)"><tspan font-style="italic">p</tspan>=0.1068</text>
<line x1="635.5" y1="238.3" x2="635.5" y2="262.7" stroke="#000000" stroke-width="1" stroke-linecap="butt"/>
<text x="644.25" y="250.8" font-size="6.1" text-anchor="middle" stroke="#000" stroke-width="0.12" transform="rotate(-90 644.25 250.8)"><tspan font-style="italic">p</tspan>=0.0576</text>
<line x1="647.7" y1="259.3" x2="647.7" y2="273.2" stroke="#000000" stroke-width="1" stroke-linecap="butt"/>
<text x="655.95" y="266.5" font-size="6.1" text-anchor="middle" stroke="#000" stroke-width="0.12" transform="rotate(-90 655.95 266.5)"><tspan font-style="italic">p</tspan>&lt;0.001</text>
<line x1="662.1" y1="249.9" x2="662.1" y2="273.7" stroke="#000000" stroke-width="1" stroke-linecap="butt"/>
<text x="670.85" y="262.1" font-size="6.1" text-anchor="middle" stroke="#000" stroke-width="0.12" transform="rotate(-90 670.85 262.1)"><tspan font-style="italic">p</tspan>&lt;0.001</text>
<line x1="538.4" y1="382.3" x2="538.4" y2="473.8" stroke="#000000" stroke-width="1.2" stroke-linecap="butt"/>
<line x1="537.9" y1="473.3" x2="674.5" y2="473.3" stroke="#000000" stroke-width="1.2" stroke-linecap="butt"/>
<line x1="534.4" y1="473.3" x2="538.4" y2="473.3" stroke="#000000" stroke-width="1" stroke-linecap="butt"/>
<text x="533" y="475.4" font-size="5.9" text-anchor="end" fill="#000000" stroke="#000000" stroke-width="0.12">0</text>
<line x1="534.4" y1="456.67" x2="538.4" y2="456.67" stroke="#000000" stroke-width="1" stroke-linecap="butt"/>
<text x="533" y="458.77" font-size="5.9" text-anchor="end" fill="#000000" stroke="#000000" stroke-width="0.12">20</text>
<line x1="534.4" y1="440.04" x2="538.4" y2="440.04" stroke="#000000" stroke-width="1" stroke-linecap="butt"/>
<text x="533" y="442.14" font-size="5.9" text-anchor="end" fill="#000000" stroke="#000000" stroke-width="0.12">40</text>
<line x1="534.4" y1="423.41" x2="538.4" y2="423.41" stroke="#000000" stroke-width="1" stroke-linecap="butt"/>
<text x="533" y="425.51" font-size="5.9" text-anchor="end" fill="#000000" stroke="#000000" stroke-width="0.12">60</text>
<line x1="534.4" y1="406.78" x2="538.4" y2="406.78" stroke="#000000" stroke-width="1" stroke-linecap="butt"/>
<text x="533" y="408.88" font-size="5.9" text-anchor="end" fill="#000000" stroke="#000000" stroke-width="0.12">80</text>
<line x1="534.4" y1="390.15" x2="538.4" y2="390.15" stroke="#000000" stroke-width="1" stroke-linecap="butt"/>
<text x="533" y="392.25" font-size="5.9" text-anchor="end" fill="#000000" stroke="#000000" stroke-width="0.12">100</text>
<line x1="538.4" y1="473.3" x2="538.4" y2="477" stroke="#000000" stroke-width="1" stroke-linecap="butt"/>
<text x="538.4" y="484.3" font-size="6.4" text-anchor="middle" fill="#000000" stroke="#000000" stroke-width="0.12">10</text>
<line x1="560.95" y1="473.3" x2="560.95" y2="477" stroke="#000000" stroke-width="1" stroke-linecap="butt"/>
<text x="560.95" y="484.3" font-size="6.4" text-anchor="middle" fill="#000000" stroke="#000000" stroke-width="0.12">20</text>
<line x1="583.5" y1="473.3" x2="583.5" y2="477" stroke="#000000" stroke-width="1" stroke-linecap="butt"/>
<text x="583.5" y="484.3" font-size="6.4" text-anchor="middle" fill="#000000" stroke="#000000" stroke-width="0.12">30</text>
<line x1="606.05" y1="473.3" x2="606.05" y2="477" stroke="#000000" stroke-width="1" stroke-linecap="butt"/>
<text x="606.05" y="484.3" font-size="6.4" text-anchor="middle" fill="#000000" stroke="#000000" stroke-width="0.12">40</text>
<line x1="628.6" y1="473.3" x2="628.6" y2="477" stroke="#000000" stroke-width="1" stroke-linecap="butt"/>
<text x="628.6" y="484.3" font-size="6.4" text-anchor="middle" fill="#000000" stroke="#000000" stroke-width="0.12">50</text>
<line x1="651.15" y1="473.3" x2="651.15" y2="477" stroke="#000000" stroke-width="1" stroke-linecap="butt"/>
<text x="651.15" y="484.3" font-size="6.4" text-anchor="middle" fill="#000000" stroke="#000000" stroke-width="0.12">60</text>
<line x1="673.7" y1="473.3" x2="673.7" y2="477" stroke="#000000" stroke-width="1" stroke-linecap="butt"/>
<text x="673.7" y="484.3" font-size="6.4" text-anchor="middle" fill="#000000" stroke="#000000" stroke-width="0.12">70</text>
<text x="606" y="494" font-size="6.25" text-anchor="middle" fill="#000000" stroke="#000000" stroke-width="0.12">Time (days)</text>
<text x="519" y="427.5" font-size="6.5" text-anchor="middle" fill="#000000" stroke="#000000" stroke-width="0.12" transform="rotate(-90 519 427.5)">Percent survival (%)</text>
<text x="606.2" y="371" font-size="7.4" text-anchor="middle" fill="#000000" stroke="#000000" stroke-width="0.12" font-weight="bold">B16-GMCSF</text>
<polyline points="538.4,390.15 555.9,390.15 555.9,398.47 563.3,398.47 563.3,406.78 564.7,406.78 564.7,431.73 572.2,431.73 572.2,440.04 608.1,440.04 608.1,448.36 611.9,448.36 611.9,456.67 651.7,456.67" fill="none" stroke="#2424F5" stroke-width="1.1" stroke-linejoin="miter" stroke-linecap="round"/>
<polyline points="538.4,390.15 552.5,390.15 552.5,406.78 554.4,406.78 554.4,415.1 558.1,415.1 558.1,440.04 560.9,440.04 560.9,456.67 567.5,456.67 567.5,464.99 579.6,464.99 579.6,473.3" fill="none" stroke="#F046F0" stroke-width="1.1" stroke-linejoin="miter" stroke-linecap="round"/>
<polyline points="538.4,390.15 553.4,390.15 553.4,398.47 554.4,398.47 554.4,415.1 557.2,415.1 557.2,423.41 560,423.41 560,440.04 565.2,440.04 565.2,456.67 572.2,456.67 572.2,473.3" fill="none" stroke="#FF1A1A" stroke-width="1.1" stroke-linejoin="miter" stroke-linecap="round"/>
<polyline points="538.4,390.15 554.4,390.15 554.4,398.47 558.1,398.47 558.1,431.73 560.4,431.73 560.4,448.36 563.7,448.36 563.7,456.67 567.1,456.67 567.1,473.3" fill="none" stroke="#000000" stroke-width="1.1" stroke-linejoin="miter" stroke-linecap="round"/>
<line x1="581.6" y1="408.5" x2="592.2" y2="408.5" stroke="#000000" stroke-width="1" stroke-linecap="butt"/>
<line x1="586.9" y1="406.7" x2="586.9" y2="408.5" stroke="#000000" stroke-width="1" stroke-linecap="butt"/>
<text x="595.6" y="410.7" font-size="6.4" text-anchor="start" fill="#000000" stroke="#000000" stroke-width="0.12">Ctrl</text>
<line x1="581.6" y1="417" x2="592.2" y2="417" stroke="#F046F0" stroke-width="1" stroke-linecap="butt"/>
<line x1="586.9" y1="415.2" x2="586.9" y2="417" stroke="#F046F0" stroke-width="1" stroke-linecap="butt"/>
<text x="595.6" y="419.2" font-size="6.4" text-anchor="start" fill="#000000" stroke="#000000" stroke-width="0.12">Anti-PD1</text>
<line x1="581.6" y1="425.5" x2="592.2" y2="425.5" stroke="#FF1A1A" stroke-width="1" stroke-linecap="butt"/>
<line x1="586.9" y1="423.7" x2="586.9" y2="425.5" stroke="#FF1A1A" stroke-width="1" stroke-linecap="butt"/>
<text x="595.6" y="427.7" font-size="6.4" text-anchor="start" fill="#000000" stroke="#000000" stroke-width="0.12">LC427</text>
<line x1="581.6" y1="434.6" x2="592.2" y2="434.6" stroke="#2424F5" stroke-width="1" stroke-linecap="butt"/>
<line x1="586.9" y1="432.8" x2="586.9" y2="434.6" stroke="#2424F5" stroke-width="1" stroke-linecap="butt"/>
<text x="595.6" y="436.8" font-size="6.4" text-anchor="start" fill="#000000" stroke="#000000" stroke-width="0.12">Anti-PD1+LC427</text>
<text x="567.3" y="393.8" font-size="6.35" text-anchor="start" fill="#000000" stroke="#000000" stroke-width="0.12">Ctrl&#160; 0/10</text>
<text x="567.3" y="401" font-size="6.35" text-anchor="start" fill="#F046F0" stroke="#F046F0" stroke-width="0.12">Anti-PD1 0/10</text>
<text x="613.3" y="393.8" font-size="6.35" text-anchor="start" fill="#FF1A1A" stroke="#FF1A1A" stroke-width="0.12">LC427 0/10</text>
<text x="613.3" y="401" font-size="6.35" text-anchor="start" fill="#2424F5" stroke="#2424F5" stroke-width="0.12">Anti-PD1+LC427 2/10</text>
<line x1="622.3" y1="406" x2="622.3" y2="421.6" stroke="#000000" stroke-width="1" stroke-linecap="butt"/>
<text x="630.75" y="413.9" font-size="6.1" text-anchor="middle" stroke="#000" stroke-width="0.12" transform="rotate(-90 630.75 413.9)"><tspan font-style="italic">p</tspan>=0.9429</text>
<line x1="633.3" y1="406" x2="633.3" y2="429.2" stroke="#000000" stroke-width="1" stroke-linecap="butt"/>
<text x="641.85" y="417.9" font-size="6.1" text-anchor="middle" stroke="#000" stroke-width="0.12" transform="rotate(-90 641.85 417.9)"><tspan font-style="italic">p</tspan>=0.5962</text>
<line x1="644.4" y1="423.2" x2="644.4" y2="436.2" stroke="#000000" stroke-width="1" stroke-linecap="butt"/>
<text x="652.85" y="430" font-size="6.1" text-anchor="middle" stroke="#000" stroke-width="0.12" transform="rotate(-90 652.85 430)"><tspan font-style="italic">p</tspan>=0.0175</text>
<line x1="658.5" y1="415.1" x2="658.5" y2="436.7" stroke="#000000" stroke-width="1" stroke-linecap="butt"/>
<text x="666.95" y="425.9" font-size="6.1" text-anchor="middle" stroke="#000" stroke-width="0.12" transform="rotate(-90 666.95 425.9)"><tspan font-style="italic">p</tspan>=0.0065</text>
</svg></body></html>
